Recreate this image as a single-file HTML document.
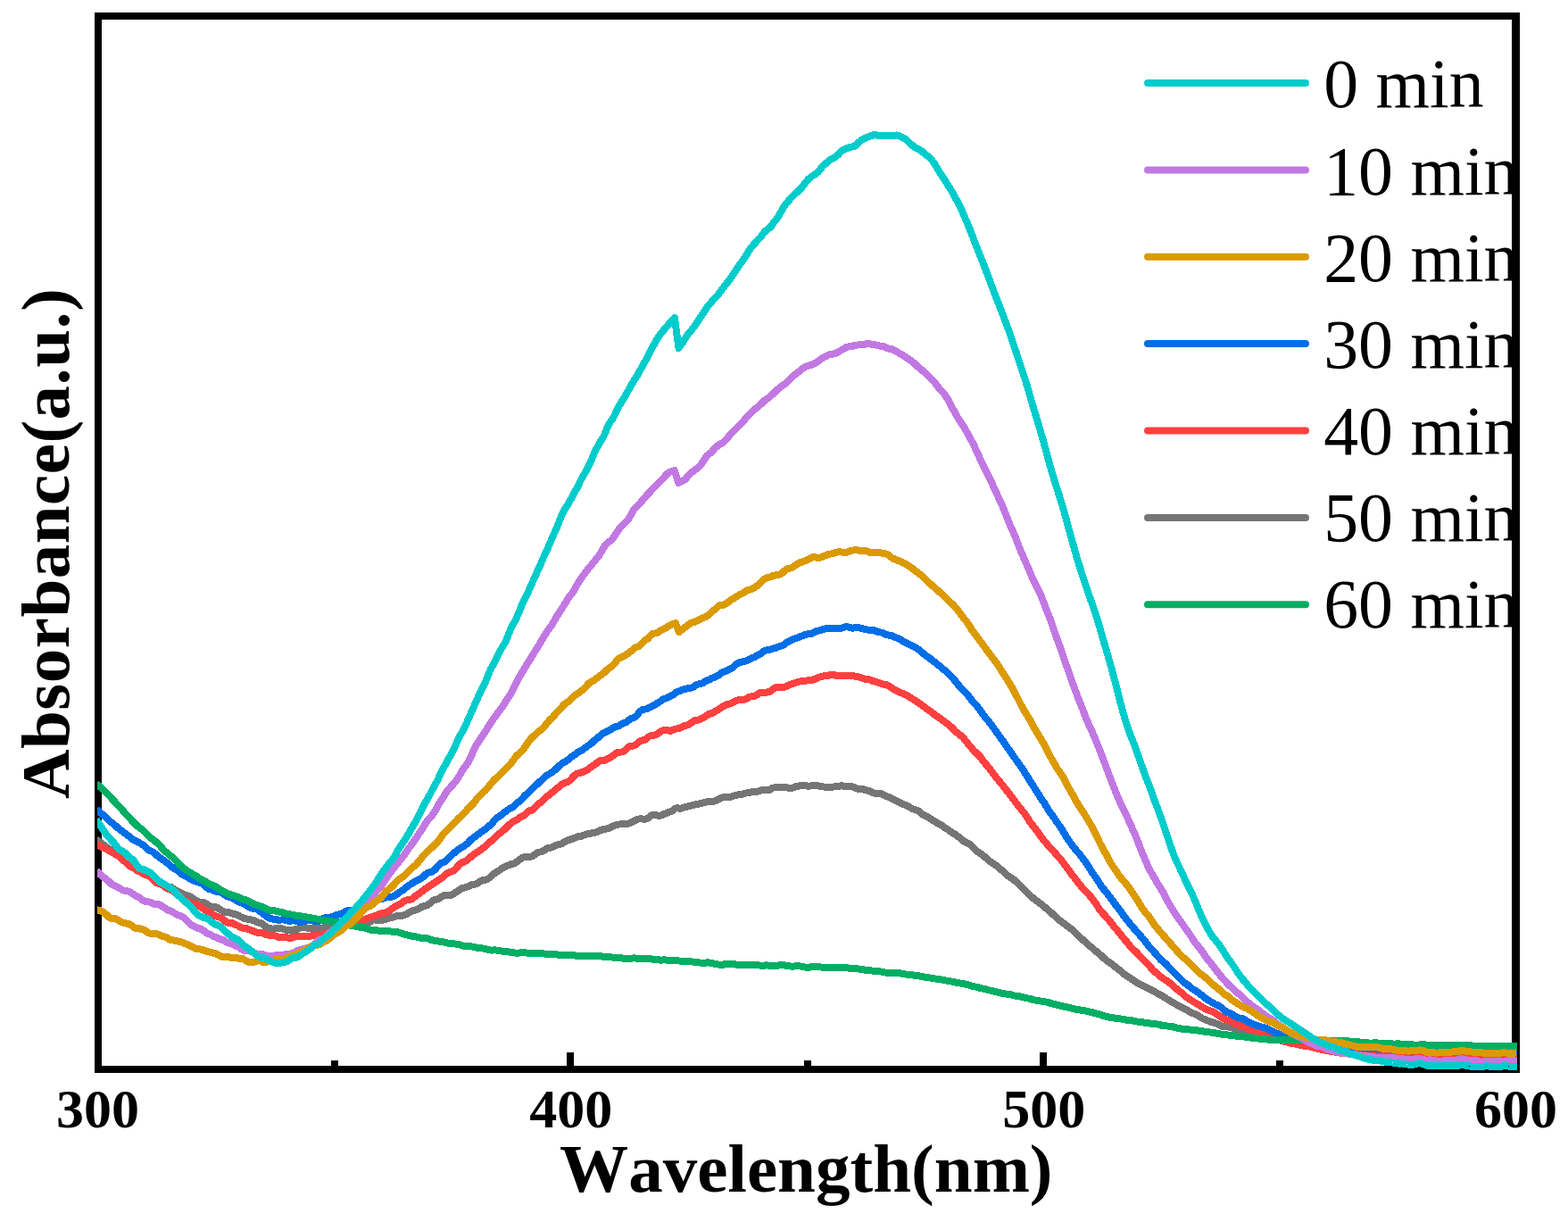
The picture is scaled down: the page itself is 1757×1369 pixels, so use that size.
<!DOCTYPE html>
<html><head><meta charset="utf-8"><title>Absorbance vs Wavelength</title>
<style>
html,body{margin:0;padding:0;background:#fff;}
body{width:1757px;height:1369px;overflow:hidden;}
svg{display:block;}
text{font-family:"Liberation Serif",serif;fill:#000;font-kerning:none;font-variant-ligatures:none;}
.b{font-weight:bold;}
.c{fill:none;stroke-width:8;stroke-linejoin:round;stroke-linecap:butt;}
.l{fill:none;stroke-width:8;stroke-linecap:round;}
</style></head>
<body>
<svg width="1757" height="1369" viewBox="0 0 1757 1369">
<defs><clipPath id="cp"><rect x="109" y="18" width="1591" height="1181"/></clipPath><clipPath id="lp"><rect x="114" y="22" width="1584" height="1173"/></clipPath></defs>
<rect x="0" y="0" width="1757" height="1369" fill="#fff"/>
<g clip-path="url(#lp)">
<line class="l" x1="1286" x2="1463" y1="93.1" y2="93.1" stroke="#00CCCC"/>
<text x="1483.2" y="120.4" font-size="77.8">0 min</text>
<line class="l" x1="1286" x2="1463" y1="190.4" y2="190.4" stroke="#C278E3"/>
<text x="1483.2" y="217.6" font-size="77.8">10 min</text>
<line class="l" x1="1286" x2="1463" y1="287.8" y2="287.8" stroke="#DB9A00"/>
<text x="1483.2" y="314.7" font-size="77.8">20 min</text>
<line class="l" x1="1286" x2="1463" y1="385.1" y2="385.1" stroke="#006EE6"/>
<text x="1483.2" y="411.9" font-size="77.8">30 min</text>
<line class="l" x1="1286" x2="1463" y1="482.5" y2="482.5" stroke="#FF4040"/>
<text x="1483.2" y="509.0" font-size="77.8">40 min</text>
<line class="l" x1="1286" x2="1463" y1="579.9" y2="579.9" stroke="#757575"/>
<text x="1483.2" y="606.1" font-size="77.8">50 min</text>
<line class="l" x1="1286" x2="1463" y1="677.2" y2="677.2" stroke="#00AE64"/>
<text x="1483.2" y="703.3" font-size="77.8">60 min</text>
</g>
<g fill="#000" shape-rendering="crispEdges">
<rect x="106" y="14" width="8" height="1188"/>
<rect x="1694" y="14" width="9" height="1188"/>
<rect x="106" y="14" width="1597" height="8"/>
<rect x="106" y="1194" width="1597" height="8"/>
<rect x="635.0" y="1179" width="8" height="16"/>
<rect x="1164.5" y="1179" width="8" height="16"/>
<rect x="370.5" y="1188" width="8" height="7"/>
<rect x="900.5" y="1188" width="8" height="7"/>
<rect x="1430.0" y="1188" width="8" height="7"/>
</g>
<g clip-path="url(#cp)" shape-rendering="crispEdges">
<path class="c" stroke="#757575" d="M108.0 940.6 L110.0 941.9 L112.0 943.4 L114.0 945.1 L116.0 946.6 L118.0 948.0 L120.0 949.5 L122.0 950.9 L124.0 951.8 L126.0 952.7 L128.0 954.0 L130.0 955.7 L132.0 957.5 L134.0 958.9 L136.0 959.9 L138.0 961.2 L140.0 962.7 L142.0 964.0 L144.0 965.3 L146.0 966.7 L148.0 968.0 L150.0 969.3 L152.0 970.7 L154.0 972.0 L156.0 973.6 L158.0 975.4 L160.0 977.0 L162.0 978.0 L164.0 978.5 L166.0 979.0 L168.0 979.9 L170.0 981.2 L172.0 982.5 L174.0 984.0 L176.0 985.8 L178.0 987.8 L180.0 989.6 L182.0 990.8 L184.0 991.7 L186.0 992.6 L188.0 993.2 L190.0 993.5 L192.0 994.2 L194.0 995.6 L196.0 997.0 L198.0 998.0 L200.0 999.0 L202.0 1000.1 L204.0 1001.2 L206.0 1002.2 L208.0 1003.0 L210.0 1003.5 L212.0 1004.0 L214.0 1005.0 L216.0 1006.5 L218.0 1007.8 L220.0 1009.1 L222.0 1010.0 L224.0 1010.6 L226.0 1010.8 L228.0 1011.0 L230.0 1011.7 L232.0 1013.0 L234.0 1014.5 L236.0 1015.7 L238.0 1016.1 L240.0 1016.2 L242.0 1016.4 L244.0 1017.2 L246.0 1018.4 L248.0 1019.7 L250.0 1020.9 L252.0 1021.8 L254.0 1022.1 L256.0 1022.3 L258.0 1022.6 L260.0 1023.3 L262.0 1023.8 L264.0 1024.3 L266.0 1025.1 L268.0 1026.2 L270.0 1027.3 L272.0 1028.2 L274.0 1028.9 L276.0 1029.5 L278.0 1029.8 L280.0 1030.1 L282.0 1030.6 L284.0 1031.2 L286.0 1032.0 L288.0 1032.9 L290.0 1033.6 L292.0 1034.2 L294.0 1035.2 L296.0 1036.8 L298.0 1038.3 L300.0 1039.3 L302.0 1040.0 L304.0 1040.5 L306.0 1040.6 L308.0 1040.5 L310.0 1040.0 L312.0 1039.7 L314.0 1039.9 L316.0 1040.4 L318.0 1041.1 L320.0 1041.7 L322.0 1042.0 L324.0 1042.3 L326.0 1042.6 L328.0 1042.2 L330.0 1041.5 L332.0 1041.0 L334.0 1040.6 L336.0 1039.7 L338.0 1038.9 L340.0 1039.0 L342.0 1039.4 L344.0 1039.6 L346.0 1039.8 L348.0 1040.1 L350.0 1040.1 L352.0 1039.8 L354.0 1039.8 L356.0 1040.1 L358.0 1040.1 L360.0 1039.8 L362.0 1039.4 L364.0 1039.4 L366.0 1039.5 L368.0 1039.2 L370.0 1038.6 L372.0 1037.9 L374.0 1037.2 L376.0 1036.9 L378.0 1036.9 L380.0 1037.3 L382.0 1037.9 L384.0 1038.0 L386.0 1037.3 L388.0 1036.5 L390.0 1036.1 L392.0 1036.0 L394.0 1036.1 L396.0 1036.2 L398.0 1036.1 L400.0 1035.5 L402.0 1034.7 L404.0 1033.9 L406.0 1033.3 L408.0 1033.2 L410.0 1033.8 L412.0 1034.2 L414.0 1033.3 L416.0 1031.6 L418.0 1030.3 L420.0 1030.3 L422.0 1031.0 L424.0 1031.3 L426.0 1031.1 L428.0 1030.7 L430.0 1030.4 L432.0 1029.9 L434.0 1029.2 L436.0 1028.6 L438.0 1028.2 L440.0 1027.8 L442.0 1027.1 L444.0 1026.3 L446.0 1025.8 L448.0 1025.6 L450.0 1025.7 L452.0 1025.5 L454.0 1024.8 L456.0 1023.8 L458.0 1022.6 L460.0 1021.4 L462.0 1020.4 L464.0 1019.9 L466.0 1019.4 L468.0 1018.5 L470.0 1017.4 L472.0 1016.2 L474.0 1015.4 L476.0 1014.8 L478.0 1014.3 L480.0 1013.4 L482.0 1011.8 L484.0 1009.8 L486.0 1008.4 L488.0 1007.9 L490.0 1007.4 L492.0 1006.4 L494.0 1005.1 L496.0 1003.9 L498.0 1003.2 L500.0 1003.1 L502.0 1003.1 L504.0 1003.0 L506.0 1002.6 L508.0 1001.6 L510.0 1000.2 L512.0 999.0 L514.0 997.6 L516.0 996.1 L518.0 995.1 L520.0 994.6 L522.0 994.1 L524.0 993.4 L526.0 992.4 L528.0 991.5 L530.0 991.0 L532.0 990.7 L534.0 989.9 L536.0 988.8 L538.0 987.6 L540.0 986.5 L542.0 986.0 L544.0 985.6 L546.0 984.9 L548.0 983.7 L550.0 982.1 L552.0 980.3 L554.0 978.4 L556.0 977.0 L558.0 975.9 L560.0 974.7 L562.0 973.3 L564.0 971.9 L566.0 970.8 L568.0 970.1 L570.0 969.4 L572.0 968.5 L574.0 967.9 L576.0 967.3 L578.0 966.3 L580.0 964.7 L582.0 963.1 L584.0 961.7 L586.0 960.7 L588.0 960.1 L590.0 960.1 L592.0 960.3 L594.0 960.0 L596.0 959.3 L598.0 958.3 L600.0 957.0 L602.0 955.6 L604.0 954.7 L606.0 954.3 L608.0 953.7 L610.0 952.5 L612.0 951.0 L614.0 950.2 L616.0 950.0 L618.0 949.5 L620.0 948.5 L622.0 947.3 L624.0 946.5 L626.0 946.1 L628.0 945.7 L630.0 944.9 L632.0 943.6 L634.0 942.3 L636.0 941.5 L638.0 940.9 L640.0 940.2 L642.0 939.6 L644.0 938.8 L646.0 937.8 L648.0 937.2 L650.0 937.0 L652.0 936.6 L654.0 935.8 L656.0 935.0 L658.0 934.4 L660.0 934.0 L662.0 933.6 L664.0 933.2 L666.0 932.8 L668.0 932.3 L670.0 931.5 L672.0 930.6 L674.0 929.8 L676.0 929.2 L678.0 928.8 L680.0 928.4 L682.0 928.0 L684.0 927.0 L686.0 925.9 L688.0 925.0 L690.0 924.5 L692.0 924.0 L694.0 923.5 L696.0 923.3 L698.0 923.3 L700.0 923.2 L702.0 922.9 L704.0 922.6 L706.0 922.0 L708.0 921.1 L710.0 920.0 L712.0 918.9 L714.0 918.0 L716.0 917.5 L718.0 917.4 L720.0 917.5 L722.0 917.7 L724.0 917.4 L726.0 916.5 L728.0 915.1 L730.0 913.6 L732.0 912.7 L734.0 912.7 L736.0 913.3 L738.0 913.8 L740.0 913.7 L742.0 913.0 L744.0 912.1 L746.0 911.3 L748.0 910.5 L750.0 909.7 L752.0 909.0 L754.0 907.8 L756.0 906.2 L758.0 905.3 L760.0 905.4 L762.0 905.7 L764.0 905.4 L766.0 904.7 L768.0 904.1 L770.0 903.6 L772.0 903.1 L774.0 902.5 L776.0 902.1 L778.0 901.7 L780.0 901.1 L782.0 900.7 L784.0 900.5 L786.0 900.0 L788.0 899.3 L790.0 898.8 L792.0 898.4 L794.0 898.1 L796.0 898.2 L798.0 898.2 L800.0 897.7 L802.0 896.9 L804.0 896.0 L806.0 895.0 L808.0 894.1 L810.0 893.4 L812.0 893.0 L814.0 892.8 L816.0 892.9 L818.0 893.0 L820.0 892.5 L822.0 891.8 L824.0 891.1 L826.0 890.6 L828.0 890.3 L830.0 890.1 L832.0 889.6 L834.0 889.0 L836.0 888.5 L838.0 888.1 L840.0 887.8 L842.0 887.4 L844.0 887.1 L846.0 887.2 L848.0 887.0 L850.0 886.3 L852.0 885.5 L854.0 885.1 L856.0 885.2 L858.0 885.4 L860.0 885.5 L862.0 884.9 L864.0 883.8 L866.0 882.7 L868.0 882.3 L870.0 882.3 L872.0 882.2 L874.0 881.9 L876.0 881.8 L878.0 881.8 L880.0 882.0 L882.0 882.4 L884.0 882.9 L886.0 882.9 L888.0 882.6 L890.0 881.9 L892.0 881.2 L894.0 880.8 L896.0 880.4 L898.0 879.8 L900.0 879.6 L902.0 879.9 L904.0 880.4 L906.0 880.7 L908.0 880.5 L910.0 880.1 L912.0 879.8 L914.0 879.8 L916.0 880.1 L918.0 880.6 L920.0 881.1 L922.0 881.4 L924.0 881.6 L926.0 881.7 L928.0 881.6 L930.0 881.5 L932.0 881.5 L934.0 881.5 L936.0 881.4 L938.0 881.1 L940.0 880.8 L942.0 880.4 L944.0 880.4 L946.0 880.7 L948.0 881.2 L950.0 881.5 L952.0 881.3 L954.0 881.2 L956.0 881.7 L958.0 882.6 L960.0 883.4 L962.0 883.7 L964.0 883.7 L966.0 883.8 L968.0 884.5 L970.0 885.3 L972.0 885.6 L974.0 886.0 L976.0 887.0 L978.0 888.0 L980.0 888.6 L982.0 888.7 L984.0 888.8 L986.0 889.0 L988.0 889.4 L990.0 890.3 L992.0 891.4 L994.0 892.4 L996.0 893.0 L998.0 893.8 L1000.0 894.8 L1002.0 895.8 L1004.0 896.8 L1006.0 897.8 L1008.0 898.9 L1010.0 899.9 L1012.0 900.8 L1014.0 901.7 L1016.0 902.6 L1018.0 903.5 L1020.0 904.7 L1022.0 905.9 L1024.0 906.8 L1026.0 907.3 L1028.0 907.9 L1030.0 909.1 L1032.0 910.9 L1034.0 912.6 L1036.0 913.7 L1038.0 914.6 L1040.0 915.6 L1042.0 916.9 L1044.0 918.3 L1046.0 919.5 L1048.0 920.6 L1050.0 921.8 L1052.0 922.9 L1054.0 923.9 L1056.0 925.3 L1058.0 926.8 L1060.0 928.2 L1062.0 929.3 L1064.0 930.7 L1066.0 932.1 L1068.0 933.4 L1070.0 934.6 L1072.0 936.0 L1074.0 937.5 L1076.0 939.1 L1078.0 940.8 L1080.0 942.4 L1082.0 943.6 L1084.0 944.5 L1086.0 945.6 L1088.0 947.0 L1090.0 948.8 L1092.0 950.9 L1094.0 952.9 L1096.0 954.4 L1098.0 955.8 L1100.0 957.3 L1102.0 958.8 L1104.0 960.4 L1106.0 962.2 L1108.0 964.0 L1110.0 965.6 L1112.0 966.9 L1114.0 968.1 L1116.0 969.5 L1118.0 971.1 L1120.0 972.8 L1122.0 974.5 L1124.0 976.1 L1126.0 977.9 L1128.0 979.8 L1130.0 981.5 L1132.0 982.8 L1134.0 984.1 L1136.0 985.6 L1138.0 987.3 L1140.0 989.2 L1142.0 991.2 L1144.0 993.2 L1146.0 995.2 L1148.0 997.0 L1150.0 998.9 L1152.0 1000.9 L1154.0 1002.9 L1156.0 1004.7 L1158.0 1006.4 L1160.0 1008.2 L1162.0 1009.6 L1164.0 1011.0 L1166.0 1012.4 L1168.0 1014.0 L1170.0 1015.7 L1172.0 1017.4 L1174.0 1019.0 L1176.0 1020.7 L1178.0 1022.6 L1180.0 1024.4 L1182.0 1026.1 L1184.0 1027.9 L1186.0 1029.8 L1188.0 1031.6 L1190.0 1033.1 L1192.0 1034.5 L1194.0 1035.9 L1196.0 1037.5 L1198.0 1039.1 L1200.0 1040.6 L1202.0 1042.1 L1204.0 1043.9 L1206.0 1046.2 L1208.0 1048.3 L1210.0 1050.1 L1212.0 1051.8 L1214.0 1053.4 L1216.0 1055.2 L1218.0 1057.1 L1220.0 1058.9 L1222.0 1060.5 L1224.0 1062.1 L1226.0 1063.9 L1228.0 1065.6 L1230.0 1067.2 L1232.0 1068.9 L1234.0 1070.6 L1236.0 1072.4 L1238.0 1074.3 L1240.0 1076.1 L1242.0 1077.6 L1244.0 1078.8 L1246.0 1080.1 L1248.0 1081.7 L1250.0 1083.4 L1252.0 1085.0 L1254.0 1086.5 L1256.0 1088.1 L1258.0 1089.9 L1260.0 1091.5 L1262.0 1092.9 L1264.0 1094.3 L1266.0 1095.5 L1268.0 1096.8 L1270.0 1098.1 L1272.0 1099.5 L1274.0 1101.0 L1276.0 1102.2 L1278.0 1103.1 L1280.0 1104.2 L1282.0 1105.2 L1284.0 1106.1 L1286.0 1107.0 L1288.0 1107.9 L1290.0 1108.8 L1292.0 1109.9 L1294.0 1111.1 L1296.0 1112.3 L1298.0 1113.4 L1300.0 1114.5 L1302.0 1115.6 L1304.0 1116.9 L1306.0 1118.1 L1308.0 1119.3 L1310.0 1120.5 L1312.0 1121.8 L1314.0 1123.1 L1316.0 1124.2 L1318.0 1125.3 L1320.0 1126.3 L1322.0 1127.3 L1324.0 1128.4 L1326.0 1129.5 L1328.0 1130.5 L1330.0 1131.6 L1332.0 1132.9 L1334.0 1134.1 L1336.0 1134.9 L1338.0 1135.6 L1340.0 1136.4 L1342.0 1137.5 L1344.0 1138.8 L1346.0 1140.1 L1348.0 1141.3 L1350.0 1142.2 L1352.0 1142.9 L1354.0 1143.6 L1356.0 1144.5 L1358.0 1145.1 L1360.0 1145.6 L1362.0 1146.3 L1364.0 1147.2 L1366.0 1148.2 L1368.0 1149.2 L1370.0 1149.9 L1372.0 1150.2 L1374.0 1150.3 L1376.0 1150.5 L1378.0 1151.0 L1380.0 1151.5 L1382.0 1151.9 L1384.0 1152.3 L1386.0 1153.0 L1388.0 1153.9 L1390.0 1154.7 L1392.0 1155.4 L1394.0 1156.0 L1396.0 1156.7 L1398.0 1157.4 L1400.0 1157.9 L1402.0 1158.3 L1404.0 1158.7 L1406.0 1159.3 L1408.0 1160.1 L1410.0 1160.8 L1412.0 1161.2 L1414.0 1161.4 L1416.0 1161.6 L1418.0 1161.9 L1420.0 1162.5 L1422.0 1162.9 L1424.0 1163.3 L1426.0 1163.7 L1428.0 1164.2 L1430.0 1164.5 L1432.0 1164.9 L1434.0 1165.4 L1436.0 1165.9 L1438.0 1166.5 L1440.0 1166.9 L1442.0 1167.1 L1444.0 1167.1 L1446.0 1167.2 L1448.0 1167.4 L1450.0 1167.9 L1452.0 1168.4 L1454.0 1168.8 L1456.0 1168.7 L1458.0 1168.6 L1460.0 1168.6 L1462.0 1169.0 L1464.0 1169.4 L1466.0 1169.7 L1468.0 1169.9 L1470.0 1170.2 L1472.0 1170.6 L1474.0 1170.9 L1476.0 1171.0 L1478.0 1171.2 L1480.0 1171.4 L1482.0 1171.6 L1484.0 1171.8 L1486.0 1172.1 L1488.0 1172.2 L1490.0 1172.3 L1492.0 1172.5 L1494.0 1172.7 L1496.0 1172.8 L1498.0 1172.8 L1500.0 1172.9 L1502.0 1173.0 L1504.0 1173.2 L1506.0 1173.2 L1508.0 1173.2 L1510.0 1173.6 L1512.0 1173.9 L1514.0 1173.9 L1516.0 1173.7 L1518.0 1173.6 L1520.0 1173.9 L1522.0 1174.2 L1524.0 1174.3 L1526.0 1174.1 L1528.0 1174.0 L1530.0 1173.9 L1532.0 1173.9 L1534.0 1173.9 L1536.0 1174.0 L1538.0 1174.3 L1540.0 1174.6 L1542.0 1174.8 L1544.0 1174.8 L1546.0 1174.9 L1548.0 1175.0 L1550.0 1175.1 L1552.0 1175.2 L1554.0 1175.1 L1556.0 1174.9 L1558.0 1174.9 L1560.0 1175.0 L1562.0 1175.1 L1564.0 1175.1 L1566.0 1175.2 L1568.0 1175.2 L1570.0 1175.1 L1572.0 1175.1 L1574.0 1175.0 L1576.0 1175.0 L1578.0 1175.0 L1580.0 1175.0 L1582.0 1174.9 L1584.0 1174.9 L1586.0 1174.9 L1588.0 1174.6 L1590.0 1174.2 L1592.0 1174.3 L1594.0 1174.8 L1596.0 1175.1 L1598.0 1175.2 L1600.0 1175.3 L1602.0 1175.5 L1604.0 1175.8 L1606.0 1176.1 L1608.0 1176.4 L1610.0 1176.6 L1612.0 1176.8 L1614.0 1177.0 L1616.0 1176.9 L1618.0 1176.5 L1620.0 1176.2 L1622.0 1176.0 L1624.0 1175.8 L1626.0 1175.6 L1628.0 1175.6 L1630.0 1175.8 L1632.0 1175.7 L1634.0 1175.5 L1636.0 1175.3 L1638.0 1175.1 L1640.0 1175.1 L1642.0 1175.2 L1644.0 1175.5 L1646.0 1175.6 L1648.0 1175.3 L1650.0 1175.2 L1652.0 1175.6 L1654.0 1176.0 L1656.0 1176.4 L1658.0 1176.6 L1660.0 1176.7 L1662.0 1176.9 L1664.0 1177.1 L1666.0 1177.2 L1668.0 1176.9 L1670.0 1176.6 L1672.0 1176.4 L1674.0 1176.3 L1676.0 1176.2 L1678.0 1175.9 L1680.0 1175.7 L1682.0 1175.5 L1684.0 1175.4 L1686.0 1175.5 L1688.0 1175.8 L1690.0 1176.2 L1692.0 1176.4 L1694.0 1176.3 L1696.0 1176.0 L1698.0 1175.8 L1700.0 1175.7"/>
<path class="c" stroke="#FF4040" d="M108.0 944.9 L110.0 946.5 L112.0 948.0 L114.0 948.9 L116.0 949.6 L118.0 950.4 L120.0 951.6 L122.0 952.9 L124.0 954.0 L126.0 955.0 L128.0 956.2 L130.0 957.4 L132.0 958.5 L134.0 960.2 L136.0 962.3 L138.0 964.0 L140.0 965.2 L142.0 966.7 L144.0 968.7 L146.0 970.4 L148.0 971.5 L150.0 972.5 L152.0 974.0 L154.0 975.4 L156.0 976.3 L158.0 977.2 L160.0 978.4 L162.0 979.6 L164.0 980.4 L166.0 981.0 L168.0 981.7 L170.0 983.4 L172.0 985.8 L174.0 988.0 L176.0 989.4 L178.0 990.1 L180.0 990.7 L182.0 991.7 L184.0 993.0 L186.0 994.5 L188.0 995.5 L190.0 996.2 L192.0 997.0 L194.0 998.3 L196.0 999.6 L198.0 1000.9 L200.0 1002.3 L202.0 1004.0 L204.0 1005.8 L206.0 1007.4 L208.0 1008.9 L210.0 1010.1 L212.0 1010.7 L214.0 1011.3 L216.0 1012.0 L218.0 1012.6 L220.0 1013.2 L222.0 1014.2 L224.0 1015.5 L226.0 1016.9 L228.0 1018.3 L230.0 1019.4 L232.0 1020.3 L234.0 1021.4 L236.0 1022.6 L238.0 1024.1 L240.0 1025.4 L242.0 1026.4 L244.0 1026.9 L246.0 1027.6 L248.0 1028.5 L250.0 1029.8 L252.0 1031.5 L254.0 1033.3 L256.0 1034.1 L258.0 1034.1 L260.0 1034.2 L262.0 1035.0 L264.0 1035.9 L266.0 1036.7 L268.0 1037.8 L270.0 1039.1 L272.0 1039.7 L274.0 1039.8 L276.0 1040.1 L278.0 1040.9 L280.0 1041.8 L282.0 1042.4 L284.0 1043.2 L286.0 1044.0 L288.0 1044.6 L290.0 1044.8 L292.0 1044.8 L294.0 1045.2 L296.0 1046.1 L298.0 1047.0 L300.0 1047.5 L302.0 1047.7 L304.0 1048.0 L306.0 1048.1 L308.0 1048.4 L310.0 1049.1 L312.0 1050.1 L314.0 1050.5 L316.0 1050.1 L318.0 1049.8 L320.0 1049.8 L322.0 1050.3 L324.0 1050.8 L326.0 1050.8 L328.0 1050.3 L330.0 1049.6 L332.0 1049.2 L334.0 1049.2 L336.0 1049.1 L338.0 1049.0 L340.0 1048.8 L342.0 1048.5 L344.0 1048.5 L346.0 1048.7 L348.0 1048.6 L350.0 1048.2 L352.0 1047.7 L354.0 1047.4 L356.0 1047.4 L358.0 1047.4 L360.0 1047.3 L362.0 1046.9 L364.0 1046.2 L366.0 1045.3 L368.0 1044.6 L370.0 1044.3 L372.0 1043.9 L374.0 1043.3 L376.0 1042.4 L378.0 1041.1 L380.0 1039.6 L382.0 1038.3 L384.0 1037.5 L386.0 1036.8 L388.0 1035.6 L390.0 1034.7 L392.0 1034.6 L394.0 1034.7 L396.0 1034.6 L398.0 1034.1 L400.0 1033.8 L402.0 1033.4 L404.0 1032.8 L406.0 1031.8 L408.0 1030.5 L410.0 1029.4 L412.0 1028.8 L414.0 1028.1 L416.0 1027.5 L418.0 1026.8 L420.0 1026.1 L422.0 1025.4 L424.0 1024.6 L426.0 1023.8 L428.0 1023.2 L430.0 1022.9 L432.0 1022.5 L434.0 1021.7 L436.0 1020.4 L438.0 1019.0 L440.0 1017.6 L442.0 1016.1 L444.0 1014.7 L446.0 1013.9 L448.0 1013.2 L450.0 1011.7 L452.0 1009.9 L454.0 1008.9 L456.0 1008.4 L458.0 1008.1 L460.0 1007.8 L462.0 1006.8 L464.0 1005.2 L466.0 1003.6 L468.0 1002.2 L470.0 1000.9 L472.0 999.3 L474.0 997.7 L476.0 996.3 L478.0 995.0 L480.0 993.5 L482.0 992.0 L484.0 990.8 L486.0 989.7 L488.0 988.3 L490.0 986.8 L492.0 985.4 L494.0 984.2 L496.0 982.7 L498.0 980.9 L500.0 979.2 L502.0 977.9 L504.0 977.0 L506.0 976.4 L508.0 975.5 L510.0 974.0 L512.0 971.7 L514.0 969.3 L516.0 967.4 L518.0 966.2 L520.0 965.6 L522.0 964.7 L524.0 963.1 L526.0 961.3 L528.0 959.5 L530.0 957.9 L532.0 956.4 L534.0 955.1 L536.0 953.8 L538.0 952.5 L540.0 951.0 L542.0 949.6 L544.0 947.8 L546.0 945.9 L548.0 944.1 L550.0 942.6 L552.0 941.0 L554.0 939.1 L556.0 937.1 L558.0 935.2 L560.0 933.5 L562.0 931.8 L564.0 930.3 L566.0 928.5 L568.0 926.4 L570.0 924.4 L572.0 922.7 L574.0 921.1 L576.0 919.8 L578.0 918.9 L580.0 917.8 L582.0 916.3 L584.0 915.0 L586.0 914.0 L588.0 912.8 L590.0 911.0 L592.0 909.2 L594.0 908.2 L596.0 907.5 L598.0 906.2 L600.0 904.0 L602.0 901.8 L604.0 900.3 L606.0 898.9 L608.0 897.1 L610.0 895.1 L612.0 893.2 L614.0 891.5 L616.0 889.9 L618.0 888.3 L620.0 886.7 L622.0 884.9 L624.0 883.3 L626.0 881.8 L628.0 880.1 L630.0 878.4 L632.0 877.3 L634.0 876.7 L636.0 876.0 L638.0 874.7 L640.0 872.8 L642.0 870.5 L644.0 868.5 L646.0 867.1 L648.0 866.3 L650.0 865.8 L652.0 865.2 L654.0 864.6 L656.0 863.7 L658.0 862.5 L660.0 861.0 L662.0 859.5 L664.0 858.2 L666.0 857.1 L668.0 855.6 L670.0 853.7 L672.0 852.4 L674.0 852.3 L676.0 852.4 L678.0 851.5 L680.0 850.3 L682.0 849.4 L684.0 848.7 L686.0 847.4 L688.0 845.7 L690.0 844.2 L692.0 843.1 L694.0 842.6 L696.0 842.5 L698.0 842.1 L700.0 840.8 L702.0 838.9 L704.0 837.1 L706.0 836.2 L708.0 835.9 L710.0 835.5 L712.0 834.5 L714.0 832.8 L716.0 831.0 L718.0 829.9 L720.0 829.5 L722.0 829.0 L724.0 827.8 L726.0 826.0 L728.0 824.7 L730.0 824.2 L732.0 824.0 L734.0 823.4 L736.0 822.4 L738.0 821.1 L740.0 819.8 L742.0 818.6 L744.0 817.9 L746.0 817.7 L748.0 818.1 L750.0 818.7 L752.0 818.7 L754.0 817.7 L756.0 816.8 L758.0 816.5 L760.0 816.2 L762.0 815.4 L764.0 814.4 L766.0 813.5 L768.0 812.8 L770.0 812.3 L772.0 811.5 L774.0 810.2 L776.0 808.7 L778.0 807.4 L780.0 806.9 L782.0 806.7 L784.0 806.1 L786.0 805.0 L788.0 803.8 L790.0 802.8 L792.0 801.5 L794.0 800.2 L796.0 799.5 L798.0 798.9 L800.0 797.8 L802.0 796.7 L804.0 795.6 L806.0 794.3 L808.0 792.8 L810.0 791.4 L812.0 790.4 L814.0 789.5 L816.0 788.8 L818.0 788.3 L820.0 787.7 L822.0 786.6 L824.0 785.5 L826.0 784.7 L828.0 784.1 L830.0 783.7 L832.0 783.7 L834.0 783.7 L836.0 783.0 L838.0 781.8 L840.0 780.7 L842.0 780.3 L844.0 780.1 L846.0 779.5 L848.0 778.4 L850.0 777.0 L852.0 776.0 L854.0 775.7 L856.0 775.8 L858.0 775.8 L860.0 775.5 L862.0 774.9 L864.0 773.8 L866.0 772.2 L868.0 770.9 L870.0 770.2 L872.0 770.0 L874.0 769.9 L876.0 770.0 L878.0 770.0 L880.0 769.5 L882.0 768.5 L884.0 767.5 L886.0 766.6 L888.0 765.9 L890.0 765.3 L892.0 764.8 L894.0 764.0 L896.0 763.5 L898.0 763.4 L900.0 763.4 L902.0 763.0 L904.0 762.5 L906.0 762.3 L908.0 762.3 L910.0 761.9 L912.0 761.2 L914.0 760.4 L916.0 759.5 L918.0 758.8 L920.0 758.1 L922.0 757.6 L924.0 757.3 L926.0 757.2 L928.0 756.9 L930.0 756.2 L932.0 755.6 L934.0 755.8 L936.0 756.6 L938.0 757.1 L940.0 757.3 L942.0 757.2 L944.0 757.2 L946.0 757.2 L948.0 757.3 L950.0 757.2 L952.0 756.9 L954.0 756.7 L956.0 757.0 L958.0 757.6 L960.0 758.0 L962.0 758.5 L964.0 758.9 L966.0 759.6 L968.0 760.4 L970.0 760.8 L972.0 760.8 L974.0 761.3 L976.0 762.2 L978.0 762.9 L980.0 763.3 L982.0 763.9 L984.0 764.7 L986.0 765.4 L988.0 766.0 L990.0 766.6 L992.0 767.0 L994.0 767.4 L996.0 768.3 L998.0 769.8 L1000.0 771.1 L1002.0 772.4 L1004.0 773.4 L1006.0 774.4 L1008.0 775.4 L1010.0 776.3 L1012.0 777.2 L1014.0 777.9 L1016.0 778.9 L1018.0 780.2 L1020.0 781.6 L1022.0 782.7 L1024.0 783.8 L1026.0 785.0 L1028.0 786.4 L1030.0 787.7 L1032.0 789.2 L1034.0 790.7 L1036.0 792.3 L1038.0 793.7 L1040.0 795.2 L1042.0 796.6 L1044.0 798.1 L1046.0 799.6 L1048.0 801.2 L1050.0 802.6 L1052.0 803.9 L1054.0 805.2 L1056.0 806.7 L1058.0 808.2 L1060.0 809.8 L1062.0 811.3 L1064.0 812.9 L1066.0 814.6 L1068.0 816.6 L1070.0 818.7 L1072.0 820.6 L1074.0 822.1 L1076.0 823.6 L1078.0 825.3 L1080.0 827.3 L1082.0 829.9 L1084.0 832.4 L1086.0 834.8 L1088.0 837.2 L1090.0 839.7 L1092.0 841.7 L1094.0 843.5 L1096.0 845.3 L1098.0 847.5 L1100.0 850.1 L1102.0 852.9 L1104.0 855.4 L1106.0 857.7 L1108.0 860.1 L1110.0 862.6 L1112.0 865.2 L1114.0 867.9 L1116.0 870.7 L1118.0 873.2 L1120.0 875.5 L1122.0 877.8 L1124.0 880.4 L1126.0 883.0 L1128.0 885.5 L1130.0 888.0 L1132.0 890.7 L1134.0 893.5 L1136.0 896.0 L1138.0 898.6 L1140.0 901.2 L1142.0 903.8 L1144.0 906.3 L1146.0 908.8 L1148.0 911.3 L1150.0 914.1 L1152.0 917.3 L1154.0 920.6 L1156.0 923.4 L1158.0 925.7 L1160.0 928.1 L1162.0 930.9 L1164.0 933.8 L1166.0 936.6 L1168.0 939.3 L1170.0 941.8 L1172.0 944.2 L1174.0 946.6 L1176.0 949.0 L1178.0 951.1 L1180.0 953.1 L1182.0 955.4 L1184.0 957.6 L1186.0 959.8 L1188.0 962.2 L1190.0 964.6 L1192.0 967.3 L1194.0 970.1 L1196.0 972.7 L1198.0 975.4 L1200.0 978.2 L1202.0 980.9 L1204.0 983.4 L1206.0 986.0 L1208.0 988.6 L1210.0 991.2 L1212.0 993.6 L1214.0 995.8 L1216.0 997.9 L1218.0 1000.0 L1220.0 1002.1 L1222.0 1004.5 L1224.0 1007.0 L1226.0 1009.6 L1228.0 1012.4 L1230.0 1015.5 L1232.0 1018.6 L1234.0 1021.2 L1236.0 1023.5 L1238.0 1025.6 L1240.0 1027.7 L1242.0 1030.0 L1244.0 1032.5 L1246.0 1035.0 L1248.0 1037.6 L1250.0 1040.0 L1252.0 1042.3 L1254.0 1044.8 L1256.0 1047.4 L1258.0 1050.0 L1260.0 1052.4 L1262.0 1054.5 L1264.0 1057.0 L1266.0 1059.7 L1268.0 1062.1 L1270.0 1063.9 L1272.0 1065.5 L1274.0 1067.5 L1276.0 1069.8 L1278.0 1072.0 L1280.0 1074.2 L1282.0 1076.1 L1284.0 1077.9 L1286.0 1079.8 L1288.0 1082.0 L1290.0 1084.5 L1292.0 1086.8 L1294.0 1088.6 L1296.0 1090.2 L1298.0 1092.0 L1300.0 1093.7 L1302.0 1095.3 L1304.0 1096.7 L1306.0 1098.0 L1308.0 1099.2 L1310.0 1100.6 L1312.0 1102.2 L1314.0 1103.9 L1316.0 1105.7 L1318.0 1107.6 L1320.0 1109.3 L1322.0 1110.7 L1324.0 1112.1 L1326.0 1113.8 L1328.0 1115.8 L1330.0 1117.6 L1332.0 1119.0 L1334.0 1120.1 L1336.0 1121.3 L1338.0 1122.7 L1340.0 1124.0 L1342.0 1125.1 L1344.0 1126.1 L1346.0 1127.4 L1348.0 1128.7 L1350.0 1130.0 L1352.0 1130.9 L1354.0 1131.6 L1356.0 1132.3 L1358.0 1133.0 L1360.0 1133.9 L1362.0 1135.1 L1364.0 1136.4 L1366.0 1137.8 L1368.0 1139.2 L1370.0 1140.5 L1372.0 1141.6 L1374.0 1142.4 L1376.0 1143.0 L1378.0 1143.7 L1380.0 1144.7 L1382.0 1145.8 L1384.0 1146.8 L1386.0 1147.7 L1388.0 1148.5 L1390.0 1149.1 L1392.0 1149.6 L1394.0 1150.4 L1396.0 1151.2 L1398.0 1152.0 L1400.0 1152.8 L1402.0 1153.5 L1404.0 1154.1 L1406.0 1154.6 L1408.0 1155.2 L1410.0 1155.9 L1412.0 1156.3 L1414.0 1156.6 L1416.0 1157.1 L1418.0 1157.5 L1420.0 1157.9 L1422.0 1158.6 L1424.0 1159.9 L1426.0 1161.2 L1428.0 1162.3 L1430.0 1163.1 L1432.0 1163.8 L1434.0 1164.5 L1436.0 1165.1 L1438.0 1165.8 L1440.0 1166.6 L1442.0 1167.4 L1444.0 1168.1 L1446.0 1168.6 L1448.0 1169.0 L1450.0 1169.3 L1452.0 1169.7 L1454.0 1170.2 L1456.0 1170.6 L1458.0 1170.9 L1460.0 1171.3 L1462.0 1171.8 L1464.0 1172.1 L1466.0 1172.3 L1468.0 1172.6 L1470.0 1173.1 L1472.0 1173.7 L1474.0 1174.1 L1476.0 1174.7 L1478.0 1175.2 L1480.0 1175.7 L1482.0 1176.1 L1484.0 1176.5 L1486.0 1176.9 L1488.0 1177.2 L1490.0 1177.6 L1492.0 1178.0 L1494.0 1178.3 L1496.0 1178.6 L1498.0 1179.0 L1500.0 1179.3 L1502.0 1179.6 L1504.0 1179.7 L1506.0 1179.9 L1508.0 1180.0 L1510.0 1180.1 L1512.0 1180.2 L1514.0 1180.4 L1516.0 1180.5 L1518.0 1180.5 L1520.0 1180.5 L1522.0 1180.6 L1524.0 1180.8 L1526.0 1181.0 L1528.0 1181.0 L1530.0 1181.0 L1532.0 1180.9 L1534.0 1180.8 L1536.0 1180.9 L1538.0 1181.2 L1540.0 1181.3 L1542.0 1181.1 L1544.0 1180.7 L1546.0 1180.8 L1548.0 1181.1 L1550.0 1181.4 L1552.0 1181.6 L1554.0 1181.8 L1556.0 1182.0 L1558.0 1182.1 L1560.0 1182.3 L1562.0 1182.6 L1564.0 1182.9 L1566.0 1183.0 L1568.0 1182.6 L1570.0 1182.4 L1572.0 1182.7 L1574.0 1183.2 L1576.0 1183.5 L1578.0 1183.5 L1580.0 1183.3 L1582.0 1183.3 L1584.0 1183.4 L1586.0 1183.2 L1588.0 1182.7 L1590.0 1182.2 L1592.0 1182.3 L1594.0 1182.8 L1596.0 1183.2 L1598.0 1183.4 L1600.0 1183.3 L1602.0 1183.2 L1604.0 1183.3 L1606.0 1183.7 L1608.0 1184.3 L1610.0 1184.4 L1612.0 1184.2 L1614.0 1184.1 L1616.0 1184.1 L1618.0 1184.0 L1620.0 1183.9 L1622.0 1183.8 L1624.0 1183.9 L1626.0 1184.1 L1628.0 1184.3 L1630.0 1184.3 L1632.0 1184.2 L1634.0 1183.8 L1636.0 1183.3 L1638.0 1183.2 L1640.0 1183.5 L1642.0 1183.8 L1644.0 1184.0 L1646.0 1184.2 L1648.0 1184.2 L1650.0 1184.1 L1652.0 1184.1 L1654.0 1184.3 L1656.0 1184.6 L1658.0 1184.7 L1660.0 1184.9 L1662.0 1185.0 L1664.0 1184.8 L1666.0 1184.3 L1668.0 1183.9 L1670.0 1183.9 L1672.0 1184.0 L1674.0 1184.1 L1676.0 1184.1 L1678.0 1184.3 L1680.0 1184.4 L1682.0 1184.2 L1684.0 1184.1 L1686.0 1183.9 L1688.0 1183.7 L1690.0 1183.7 L1692.0 1183.7 L1694.0 1183.9 L1696.0 1184.0 L1698.0 1184.0 L1700.0 1184.0"/>
<path class="c" stroke="#006EE6" d="M108.0 906.7 L110.0 908.5 L112.0 910.4 L114.0 911.8 L116.0 913.2 L118.0 914.8 L120.0 916.9 L122.0 919.0 L124.0 920.7 L126.0 922.2 L128.0 923.8 L130.0 925.6 L132.0 927.4 L134.0 929.0 L136.0 930.5 L138.0 931.9 L140.0 933.5 L142.0 934.9 L144.0 936.5 L146.0 938.2 L148.0 939.9 L150.0 941.2 L152.0 942.1 L154.0 943.0 L156.0 944.1 L158.0 945.3 L160.0 946.5 L162.0 948.2 L164.0 950.1 L166.0 951.8 L168.0 952.9 L170.0 953.7 L172.0 954.9 L174.0 956.5 L176.0 958.4 L178.0 960.0 L180.0 961.4 L182.0 962.7 L184.0 964.3 L186.0 965.9 L188.0 967.3 L190.0 969.1 L192.0 970.9 L194.0 972.3 L196.0 973.3 L198.0 974.5 L200.0 975.9 L202.0 977.7 L204.0 979.6 L206.0 980.7 L208.0 981.5 L210.0 982.7 L212.0 984.0 L214.0 985.0 L216.0 985.9 L218.0 986.9 L220.0 987.7 L222.0 988.3 L224.0 988.8 L226.0 989.6 L228.0 991.0 L230.0 992.8 L232.0 994.6 L234.0 995.9 L236.0 996.5 L238.0 997.0 L240.0 997.8 L242.0 998.7 L244.0 999.3 L246.0 999.4 L248.0 999.9 L250.0 1001.1 L252.0 1002.7 L254.0 1003.9 L256.0 1004.7 L258.0 1005.3 L260.0 1006.1 L262.0 1007.0 L264.0 1008.2 L266.0 1009.6 L268.0 1010.8 L270.0 1011.4 L272.0 1011.9 L274.0 1012.9 L276.0 1014.2 L278.0 1015.4 L280.0 1016.4 L282.0 1017.3 L284.0 1017.9 L286.0 1018.1 L288.0 1018.6 L290.0 1019.8 L292.0 1021.5 L294.0 1023.2 L296.0 1024.6 L298.0 1026.1 L300.0 1027.6 L302.0 1028.6 L304.0 1029.3 L306.0 1029.6 L308.0 1029.7 L310.0 1030.2 L312.0 1030.8 L314.0 1030.7 L316.0 1030.3 L318.0 1030.3 L320.0 1030.8 L322.0 1031.5 L324.0 1031.8 L326.0 1031.6 L328.0 1031.2 L330.0 1031.2 L332.0 1031.9 L334.0 1032.7 L336.0 1032.9 L338.0 1032.6 L340.0 1032.3 L342.0 1031.8 L344.0 1031.4 L346.0 1031.1 L348.0 1031.2 L350.0 1031.5 L352.0 1031.9 L354.0 1032.4 L356.0 1032.5 L358.0 1031.8 L360.0 1030.5 L362.0 1029.2 L364.0 1028.4 L366.0 1028.1 L368.0 1027.9 L370.0 1027.7 L372.0 1027.1 L374.0 1026.4 L376.0 1025.5 L378.0 1024.8 L380.0 1024.4 L382.0 1024.1 L384.0 1023.2 L386.0 1021.8 L388.0 1020.6 L390.0 1020.1 L392.0 1020.1 L394.0 1020.1 L396.0 1019.7 L398.0 1018.9 L400.0 1018.0 L402.0 1016.8 L404.0 1015.4 L406.0 1013.8 L408.0 1012.1 L410.0 1011.0 L412.0 1010.5 L414.0 1010.2 L416.0 1009.4 L418.0 1008.6 L420.0 1008.1 L422.0 1007.7 L424.0 1007.5 L426.0 1007.4 L428.0 1007.1 L430.0 1006.4 L432.0 1005.7 L434.0 1005.3 L436.0 1005.2 L438.0 1004.9 L440.0 1004.5 L442.0 1003.5 L444.0 1002.2 L446.0 1000.7 L448.0 999.3 L450.0 998.2 L452.0 996.9 L454.0 995.2 L456.0 993.4 L458.0 991.9 L460.0 990.7 L462.0 989.5 L464.0 988.3 L466.0 987.0 L468.0 986.0 L470.0 985.2 L472.0 984.1 L474.0 982.4 L476.0 980.4 L478.0 978.7 L480.0 977.6 L482.0 977.1 L484.0 976.5 L486.0 975.4 L488.0 973.6 L490.0 971.2 L492.0 968.8 L494.0 967.2 L496.0 966.3 L498.0 965.5 L500.0 964.0 L502.0 962.0 L504.0 960.1 L506.0 958.3 L508.0 956.3 L510.0 954.5 L512.0 953.0 L514.0 951.6 L516.0 950.3 L518.0 949.0 L520.0 947.8 L522.0 946.4 L524.0 944.7 L526.0 942.6 L528.0 940.6 L530.0 939.0 L532.0 937.4 L534.0 936.0 L536.0 934.6 L538.0 933.1 L540.0 931.5 L542.0 930.2 L544.0 929.0 L546.0 927.3 L548.0 925.4 L550.0 923.7 L552.0 921.7 L554.0 919.2 L556.0 917.1 L558.0 915.6 L560.0 914.2 L562.0 912.7 L564.0 911.1 L566.0 909.4 L568.0 907.9 L570.0 906.7 L572.0 905.7 L574.0 904.6 L576.0 902.8 L578.0 900.9 L580.0 899.3 L582.0 897.9 L584.0 896.0 L586.0 893.8 L588.0 891.6 L590.0 889.7 L592.0 887.7 L594.0 885.7 L596.0 883.8 L598.0 882.1 L600.0 880.3 L602.0 878.4 L604.0 876.5 L606.0 874.7 L608.0 872.7 L610.0 870.8 L612.0 869.2 L614.0 867.9 L616.0 866.7 L618.0 865.5 L620.0 864.1 L622.0 862.4 L624.0 860.4 L626.0 858.5 L628.0 856.7 L630.0 855.1 L632.0 853.8 L634.0 852.8 L636.0 851.7 L638.0 850.2 L640.0 848.3 L642.0 846.9 L644.0 845.6 L646.0 844.1 L648.0 842.6 L650.0 841.5 L652.0 840.5 L654.0 839.2 L656.0 837.4 L658.0 835.9 L660.0 834.7 L662.0 833.4 L664.0 831.6 L666.0 829.6 L668.0 828.0 L670.0 826.4 L672.0 824.7 L674.0 823.1 L676.0 821.6 L678.0 820.4 L680.0 819.5 L682.0 818.6 L684.0 817.5 L686.0 816.1 L688.0 814.9 L690.0 814.2 L692.0 813.7 L694.0 812.8 L696.0 811.6 L698.0 810.6 L700.0 809.8 L702.0 808.8 L704.0 807.4 L706.0 805.8 L708.0 804.6 L710.0 803.9 L712.0 802.9 L714.0 800.8 L716.0 798.3 L718.0 796.3 L720.0 795.1 L722.0 794.7 L724.0 794.3 L726.0 793.4 L728.0 792.5 L730.0 791.6 L732.0 790.5 L734.0 789.4 L736.0 788.3 L738.0 787.0 L740.0 785.7 L742.0 784.2 L744.0 783.1 L746.0 782.4 L748.0 781.6 L750.0 780.7 L752.0 779.7 L754.0 778.4 L756.0 776.9 L758.0 775.6 L760.0 774.7 L762.0 773.8 L764.0 773.1 L766.0 772.3 L768.0 771.7 L770.0 771.4 L772.0 771.1 L774.0 770.8 L776.0 770.1 L778.0 768.8 L780.0 767.4 L782.0 766.5 L784.0 766.2 L786.0 765.8 L788.0 764.8 L790.0 763.4 L792.0 762.4 L794.0 761.7 L796.0 760.8 L798.0 759.7 L800.0 758.8 L802.0 758.1 L804.0 757.2 L806.0 755.7 L808.0 754.2 L810.0 753.1 L812.0 752.3 L814.0 751.4 L816.0 750.4 L818.0 749.5 L820.0 748.5 L822.0 747.1 L824.0 745.2 L826.0 743.5 L828.0 742.5 L830.0 741.8 L832.0 741.3 L834.0 741.0 L836.0 740.3 L838.0 739.3 L840.0 738.3 L842.0 737.6 L844.0 736.8 L846.0 735.8 L848.0 734.7 L850.0 733.6 L852.0 732.4 L854.0 731.0 L856.0 729.5 L858.0 728.6 L860.0 728.2 L862.0 727.8 L864.0 727.3 L866.0 726.7 L868.0 726.2 L870.0 725.6 L872.0 724.8 L874.0 723.9 L876.0 723.3 L878.0 722.6 L880.0 721.1 L882.0 719.6 L884.0 718.6 L886.0 717.6 L888.0 716.5 L890.0 715.6 L892.0 714.9 L894.0 714.3 L896.0 713.6 L898.0 712.8 L900.0 712.0 L902.0 711.2 L904.0 710.5 L906.0 710.2 L908.0 710.0 L910.0 709.7 L912.0 708.7 L914.0 707.6 L916.0 706.8 L918.0 706.4 L920.0 706.2 L922.0 704.9 L924.0 704.6 L926.0 704.3 L928.0 704.2 L930.0 704.3 L932.0 704.2 L934.0 703.9 L936.0 703.8 L938.0 704.1 L940.0 704.3 L942.0 704.0 L944.0 703.3 L946.0 702.6 L948.0 702.1 L950.0 702.3 L952.0 703.0 L954.0 703.5 L956.0 703.6 L958.0 703.1 L960.0 702.9 L962.0 703.2 L964.0 703.7 L966.0 704.2 L968.0 704.7 L970.0 705.1 L972.0 705.5 L974.0 705.6 L976.0 705.7 L978.0 706.0 L980.0 706.5 L982.0 707.2 L984.0 707.9 L986.0 708.3 L988.0 708.7 L990.0 709.7 L992.0 710.7 L994.0 711.3 L996.0 711.6 L998.0 711.9 L1000.0 712.4 L1002.0 713.3 L1004.0 714.3 L1006.0 715.1 L1008.0 716.0 L1010.0 717.2 L1012.0 718.5 L1014.0 719.5 L1016.0 720.3 L1018.0 721.3 L1020.0 722.4 L1022.0 723.4 L1024.0 724.4 L1026.0 725.6 L1028.0 726.9 L1030.0 728.2 L1032.0 729.8 L1034.0 731.6 L1036.0 733.3 L1038.0 734.7 L1040.0 736.1 L1042.0 737.6 L1044.0 739.2 L1046.0 740.8 L1048.0 742.3 L1050.0 743.9 L1052.0 745.5 L1054.0 747.1 L1056.0 748.8 L1058.0 750.5 L1060.0 752.2 L1062.0 754.0 L1064.0 756.1 L1066.0 758.1 L1068.0 760.2 L1070.0 762.5 L1072.0 765.0 L1074.0 767.5 L1076.0 769.8 L1078.0 771.9 L1080.0 773.9 L1082.0 775.8 L1084.0 778.0 L1086.0 780.6 L1088.0 783.3 L1090.0 785.8 L1092.0 788.0 L1094.0 790.2 L1096.0 792.6 L1098.0 795.3 L1100.0 798.2 L1102.0 801.1 L1104.0 803.7 L1106.0 806.0 L1108.0 808.2 L1110.0 810.8 L1112.0 813.7 L1114.0 816.5 L1116.0 819.2 L1118.0 822.1 L1120.0 824.9 L1122.0 827.6 L1124.0 830.4 L1126.0 833.4 L1128.0 836.3 L1130.0 839.1 L1132.0 841.8 L1134.0 844.6 L1136.0 847.6 L1138.0 850.5 L1140.0 853.4 L1142.0 856.1 L1144.0 858.9 L1146.0 861.9 L1148.0 865.0 L1150.0 868.1 L1152.0 871.3 L1154.0 874.6 L1156.0 877.9 L1158.0 881.0 L1160.0 884.0 L1162.0 887.1 L1164.0 890.4 L1166.0 893.6 L1168.0 896.6 L1170.0 899.4 L1172.0 902.6 L1174.0 906.0 L1176.0 909.2 L1178.0 911.9 L1180.0 914.6 L1182.0 917.5 L1184.0 920.6 L1186.0 923.5 L1188.0 926.3 L1190.0 929.3 L1192.0 932.6 L1194.0 936.0 L1196.0 939.2 L1198.0 942.1 L1200.0 944.9 L1202.0 947.7 L1204.0 950.3 L1206.0 952.6 L1208.0 954.9 L1210.0 957.4 L1212.0 960.0 L1214.0 962.5 L1216.0 965.1 L1218.0 968.0 L1220.0 971.3 L1222.0 974.5 L1224.0 977.6 L1226.0 980.5 L1228.0 983.4 L1230.0 986.4 L1232.0 989.5 L1234.0 992.5 L1236.0 995.3 L1238.0 997.7 L1240.0 1000.0 L1242.0 1002.6 L1244.0 1005.3 L1246.0 1008.1 L1248.0 1010.8 L1250.0 1013.5 L1252.0 1016.0 L1254.0 1018.6 L1256.0 1021.3 L1258.0 1024.1 L1260.0 1026.9 L1262.0 1029.6 L1264.0 1032.1 L1266.0 1034.6 L1268.0 1037.1 L1270.0 1039.4 L1272.0 1041.7 L1274.0 1043.9 L1276.0 1046.1 L1278.0 1048.5 L1280.0 1050.8 L1282.0 1053.0 L1284.0 1055.5 L1286.0 1058.2 L1288.0 1060.9 L1290.0 1063.3 L1292.0 1065.3 L1294.0 1067.4 L1296.0 1069.6 L1298.0 1072.1 L1300.0 1074.4 L1302.0 1076.3 L1304.0 1078.0 L1306.0 1079.6 L1308.0 1081.6 L1310.0 1083.9 L1312.0 1086.2 L1314.0 1088.3 L1316.0 1090.1 L1318.0 1091.8 L1320.0 1093.8 L1322.0 1096.0 L1324.0 1098.1 L1326.0 1100.0 L1328.0 1101.5 L1330.0 1102.8 L1332.0 1104.4 L1334.0 1106.1 L1336.0 1107.7 L1338.0 1109.0 L1340.0 1110.2 L1342.0 1111.5 L1344.0 1112.9 L1346.0 1114.5 L1348.0 1116.2 L1350.0 1117.8 L1352.0 1119.3 L1354.0 1120.5 L1356.0 1121.7 L1358.0 1123.0 L1360.0 1124.2 L1362.0 1125.3 L1364.0 1126.1 L1366.0 1127.0 L1368.0 1128.3 L1370.0 1129.9 L1372.0 1131.8 L1374.0 1133.4 L1376.0 1134.4 L1378.0 1134.9 L1380.0 1135.7 L1382.0 1137.1 L1384.0 1138.7 L1386.0 1139.7 L1388.0 1140.3 L1390.0 1140.7 L1392.0 1141.1 L1394.0 1141.9 L1396.0 1143.1 L1398.0 1144.5 L1400.0 1145.6 L1402.0 1146.4 L1404.0 1147.3 L1406.0 1148.2 L1408.0 1148.8 L1410.0 1149.4 L1412.0 1150.0 L1414.0 1150.6 L1416.0 1151.2 L1418.0 1151.7 L1420.0 1152.4 L1422.0 1153.3 L1424.0 1154.3 L1426.0 1155.4 L1428.0 1156.4 L1430.0 1157.3 L1432.0 1158.1 L1434.0 1158.6 L1436.0 1159.0 L1438.0 1159.3 L1440.0 1159.8 L1442.0 1160.2 L1444.0 1160.5 L1446.0 1160.8 L1448.0 1161.3 L1450.0 1162.1 L1452.0 1162.9 L1454.0 1163.4 L1456.0 1163.7 L1458.0 1164.0 L1460.0 1164.7 L1462.0 1165.5 L1464.0 1166.0 L1466.0 1166.5 L1468.0 1167.0 L1470.0 1167.4 L1472.0 1167.4 L1474.0 1167.3 L1476.0 1167.5 L1478.0 1167.9 L1480.0 1168.2 L1482.0 1168.7 L1484.0 1169.2 L1486.0 1169.6 L1488.0 1170.0 L1490.0 1170.4 L1492.0 1170.6 L1494.0 1170.7 L1496.0 1170.9 L1498.0 1171.2 L1500.0 1171.5 L1502.0 1171.7 L1504.0 1171.9 L1506.0 1172.4 L1508.0 1172.9 L1510.0 1173.1 L1512.0 1173.1 L1514.0 1172.9 L1516.0 1172.8 L1518.0 1173.0 L1520.0 1173.3 L1522.0 1173.5 L1524.0 1173.6 L1526.0 1173.6 L1528.0 1173.9 L1530.0 1174.3 L1532.0 1174.5 L1534.0 1174.5 L1536.0 1174.5 L1538.0 1174.5 L1540.0 1174.4 L1542.0 1174.5 L1544.0 1174.8 L1546.0 1174.9 L1548.0 1175.0 L1550.0 1175.1 L1552.0 1175.2 L1554.0 1175.3 L1556.0 1175.3 L1558.0 1175.5 L1560.0 1175.9 L1562.0 1176.2 L1564.0 1176.3 L1566.0 1176.5 L1568.0 1176.7 L1570.0 1176.6 L1572.0 1176.4 L1574.0 1176.4 L1576.0 1176.6 L1578.0 1176.7 L1580.0 1176.8 L1582.0 1176.7 L1584.0 1176.7 L1586.0 1176.5 L1588.0 1176.0 L1590.0 1175.4 L1592.0 1175.2 L1594.0 1175.6 L1596.0 1176.2 L1598.0 1176.9 L1600.0 1177.4 L1602.0 1177.6 L1604.0 1177.5 L1606.0 1177.4 L1608.0 1177.7 L1610.0 1178.1 L1612.0 1178.2 L1614.0 1178.0 L1616.0 1177.6 L1618.0 1177.5 L1620.0 1177.4 L1622.0 1177.2 L1624.0 1177.0 L1626.0 1176.9 L1628.0 1176.9 L1630.0 1176.9 L1632.0 1176.9 L1634.0 1176.8 L1636.0 1176.5 L1638.0 1176.4 L1640.0 1176.8 L1642.0 1177.3 L1644.0 1177.7 L1646.0 1178.1 L1648.0 1178.2 L1650.0 1178.2 L1652.0 1178.0 L1654.0 1177.9 L1656.0 1178.1 L1658.0 1178.3 L1660.0 1178.4 L1662.0 1178.4 L1664.0 1178.1 L1666.0 1178.0 L1668.0 1178.0 L1670.0 1177.9 L1672.0 1177.6 L1674.0 1177.3 L1676.0 1177.2 L1678.0 1177.6 L1680.0 1178.3 L1682.0 1178.7 L1684.0 1178.5 L1686.0 1178.2 L1688.0 1178.1 L1690.0 1178.1 L1692.0 1178.1 L1694.0 1178.0 L1696.0 1178.0 L1698.0 1178.2 L1700.0 1178.3"/>
<path class="c" stroke="#00AE64" d="M108.0 878.2 L110.0 879.8 L112.0 881.4 L114.0 883.2 L116.0 885.0 L118.0 886.8 L120.0 888.7 L122.0 890.8 L124.0 893.2 L126.0 895.4 L128.0 897.5 L130.0 899.7 L132.0 902.0 L134.0 904.1 L136.0 906.2 L138.0 908.4 L140.0 910.8 L142.0 913.0 L144.0 915.1 L146.0 917.2 L148.0 919.4 L150.0 921.5 L152.0 923.6 L154.0 925.5 L156.0 927.0 L158.0 928.4 L160.0 930.0 L162.0 932.0 L164.0 934.0 L166.0 936.0 L168.0 937.8 L170.0 939.5 L172.0 941.1 L174.0 942.6 L176.0 944.2 L178.0 946.1 L180.0 948.3 L182.0 950.7 L184.0 952.8 L186.0 954.5 L188.0 956.2 L190.0 958.0 L192.0 959.6 L194.0 961.1 L196.0 962.7 L198.0 964.8 L200.0 967.3 L202.0 969.5 L204.0 971.2 L206.0 972.8 L208.0 974.3 L210.0 975.7 L212.0 977.0 L214.0 978.1 L216.0 979.3 L218.0 980.4 L220.0 981.6 L222.0 983.1 L224.0 984.5 L226.0 985.7 L228.0 986.5 L230.0 987.5 L232.0 988.9 L234.0 990.2 L236.0 991.0 L238.0 991.7 L240.0 992.5 L242.0 993.5 L244.0 994.8 L246.0 996.0 L248.0 997.3 L250.0 998.4 L252.0 999.5 L254.0 1000.6 L256.0 1001.5 L258.0 1002.1 L260.0 1002.8 L262.0 1003.4 L264.0 1004.0 L266.0 1004.7 L268.0 1005.7 L270.0 1006.7 L272.0 1007.4 L274.0 1007.9 L276.0 1008.5 L278.0 1009.3 L280.0 1010.4 L282.0 1011.6 L284.0 1012.5 L286.0 1013.3 L288.0 1013.9 L290.0 1014.6 L292.0 1015.3 L294.0 1016.0 L296.0 1017.0 L298.0 1018.1 L300.0 1019.2 L302.0 1019.7 L304.0 1019.9 L306.0 1020.0 L308.0 1020.5 L310.0 1021.0 L312.0 1021.4 L314.0 1021.7 L316.0 1022.2 L318.0 1022.8 L320.0 1023.5 L322.0 1024.0 L324.0 1024.4 L326.0 1024.5 L328.0 1024.8 L330.0 1025.3 L332.0 1025.8 L334.0 1026.0 L336.0 1026.2 L338.0 1026.5 L340.0 1026.8 L342.0 1027.2 L344.0 1027.7 L346.0 1028.1 L348.0 1028.3 L350.0 1028.5 L352.0 1028.8 L354.0 1029.3 L356.0 1029.7 L358.0 1030.1 L360.0 1030.6 L362.0 1031.0 L364.0 1031.3 L366.0 1031.5 L368.0 1031.6 L370.0 1031.9 L372.0 1032.3 L374.0 1032.7 L376.0 1032.9 L378.0 1033.2 L380.0 1033.6 L382.0 1034.0 L384.0 1034.5 L386.0 1035.3 L388.0 1035.9 L390.0 1036.4 L392.0 1036.6 L394.0 1036.8 L396.0 1037.1 L398.0 1037.7 L400.0 1038.1 L402.0 1038.5 L404.0 1038.8 L406.0 1039.1 L408.0 1039.4 L410.0 1039.9 L412.0 1040.6 L414.0 1041.4 L416.0 1041.9 L418.0 1042.0 L420.0 1042.0 L422.0 1042.3 L424.0 1042.6 L426.0 1042.7 L428.0 1042.7 L430.0 1042.8 L432.0 1043.0 L434.0 1043.0 L436.0 1043.2 L438.0 1043.5 L440.0 1043.6 L442.0 1043.7 L444.0 1043.9 L446.0 1044.3 L448.0 1044.9 L450.0 1045.7 L452.0 1046.4 L454.0 1046.9 L456.0 1047.3 L458.0 1047.8 L460.0 1048.4 L462.0 1048.7 L464.0 1049.0 L466.0 1049.4 L468.0 1049.9 L470.0 1050.4 L472.0 1051.0 L474.0 1051.3 L476.0 1051.2 L478.0 1051.2 L480.0 1051.6 L482.0 1052.4 L484.0 1053.2 L486.0 1053.7 L488.0 1054.1 L490.0 1054.3 L492.0 1054.6 L494.0 1054.7 L496.0 1055.1 L498.0 1055.6 L500.0 1056.2 L502.0 1056.7 L504.0 1057.1 L506.0 1057.3 L508.0 1057.4 L510.0 1057.5 L512.0 1057.7 L514.0 1058.0 L516.0 1058.6 L518.0 1059.3 L520.0 1059.8 L522.0 1060.0 L524.0 1060.0 L526.0 1060.1 L528.0 1060.3 L530.0 1060.7 L532.0 1061.2 L534.0 1061.6 L536.0 1061.8 L538.0 1062.0 L540.0 1062.3 L542.0 1062.7 L544.0 1063.2 L546.0 1063.7 L548.0 1064.2 L550.0 1064.5 L552.0 1064.5 L554.0 1064.4 L556.0 1064.5 L558.0 1064.9 L560.0 1065.2 L562.0 1065.5 L564.0 1065.7 L566.0 1066.0 L568.0 1066.2 L570.0 1066.4 L572.0 1066.8 L574.0 1067.1 L576.0 1067.4 L578.0 1067.6 L580.0 1067.6 L582.0 1067.5 L584.0 1067.3 L586.0 1067.3 L588.0 1067.4 L590.0 1067.5 L592.0 1067.9 L594.0 1068.1 L596.0 1068.2 L598.0 1068.2 L600.0 1068.2 L602.0 1068.2 L604.0 1068.1 L606.0 1068.0 L608.0 1068.2 L610.0 1068.5 L612.0 1068.8 L614.0 1069.0 L616.0 1069.2 L618.0 1069.2 L620.0 1069.1 L622.0 1069.1 L624.0 1069.4 L626.0 1069.9 L628.0 1070.1 L630.0 1069.9 L632.0 1069.8 L634.0 1070.0 L636.0 1070.3 L638.0 1070.3 L640.0 1070.2 L642.0 1070.3 L644.0 1070.4 L646.0 1070.7 L648.0 1071.0 L650.0 1071.2 L652.0 1071.1 L654.0 1071.1 L656.0 1071.2 L658.0 1071.2 L660.0 1071.0 L662.0 1070.8 L664.0 1070.8 L666.0 1070.9 L668.0 1070.9 L670.0 1070.7 L672.0 1070.9 L674.0 1071.5 L676.0 1072.0 L678.0 1072.2 L680.0 1072.1 L682.0 1071.9 L684.0 1072.1 L686.0 1072.5 L688.0 1072.9 L690.0 1073.0 L692.0 1073.0 L694.0 1072.9 L696.0 1073.2 L698.0 1073.6 L700.0 1074.0 L702.0 1074.0 L704.0 1073.9 L706.0 1073.7 L708.0 1073.6 L710.0 1073.4 L712.0 1073.5 L714.0 1073.8 L716.0 1074.2 L718.0 1074.3 L720.0 1074.4 L722.0 1074.3 L724.0 1074.0 L726.0 1073.8 L728.0 1073.9 L730.0 1074.4 L732.0 1074.8 L734.0 1075.0 L736.0 1075.0 L738.0 1075.3 L740.0 1075.6 L742.0 1075.5 L744.0 1075.4 L746.0 1075.5 L748.0 1075.7 L750.0 1075.6 L752.0 1075.5 L754.0 1075.6 L756.0 1075.8 L758.0 1076.0 L760.0 1076.3 L762.0 1076.7 L764.0 1077.0 L766.0 1077.1 L768.0 1077.2 L770.0 1077.2 L772.0 1077.2 L774.0 1077.3 L776.0 1077.5 L778.0 1077.7 L780.0 1077.9 L782.0 1078.1 L784.0 1078.5 L786.0 1078.9 L788.0 1079.0 L790.0 1078.7 L792.0 1078.4 L794.0 1078.4 L796.0 1078.7 L798.0 1079.1 L800.0 1079.6 L802.0 1080.1 L804.0 1080.4 L806.0 1080.6 L808.0 1080.9 L810.0 1080.8 L812.0 1080.2 L814.0 1079.7 L816.0 1079.7 L818.0 1079.8 L820.0 1079.8 L822.0 1080.1 L824.0 1080.4 L826.0 1080.7 L828.0 1081.0 L830.0 1081.2 L832.0 1081.1 L834.0 1081.0 L836.0 1080.9 L838.0 1081.0 L840.0 1081.1 L842.0 1081.2 L844.0 1080.9 L846.0 1080.8 L848.0 1080.9 L850.0 1081.3 L852.0 1081.7 L854.0 1081.9 L856.0 1081.7 L858.0 1081.4 L860.0 1081.5 L862.0 1081.9 L864.0 1082.2 L866.0 1082.3 L868.0 1082.3 L870.0 1082.0 L872.0 1081.6 L874.0 1081.1 L876.0 1080.8 L878.0 1081.1 L880.0 1081.6 L882.0 1082.1 L884.0 1082.4 L886.0 1082.5 L888.0 1082.6 L890.0 1082.5 L892.0 1082.3 L894.0 1082.2 L896.0 1082.3 L898.0 1082.7 L900.0 1083.1 L902.0 1083.5 L904.0 1083.7 L906.0 1083.7 L908.0 1083.4 L910.0 1083.2 L912.0 1083.1 L914.0 1083.1 L916.0 1083.1 L918.0 1083.2 L920.0 1083.5 L922.0 1083.7 L924.0 1083.8 L926.0 1084.0 L928.0 1084.2 L930.0 1084.2 L932.0 1083.9 L934.0 1083.7 L936.0 1084.0 L938.0 1084.3 L940.0 1084.4 L942.0 1084.3 L944.0 1084.1 L946.0 1083.9 L948.0 1084.0 L950.0 1084.4 L952.0 1084.7 L954.0 1084.8 L956.0 1084.9 L958.0 1085.0 L960.0 1085.2 L962.0 1085.5 L964.0 1085.8 L966.0 1086.1 L968.0 1086.4 L970.0 1086.8 L972.0 1087.1 L974.0 1087.3 L976.0 1087.4 L978.0 1087.6 L980.0 1087.8 L982.0 1088.1 L984.0 1088.2 L986.0 1088.3 L988.0 1088.7 L990.0 1089.2 L992.0 1089.5 L994.0 1089.5 L996.0 1089.5 L998.0 1089.8 L1000.0 1090.0 L1002.0 1090.1 L1004.0 1090.2 L1006.0 1090.1 L1008.0 1090.3 L1010.0 1090.6 L1012.0 1091.0 L1014.0 1091.3 L1016.0 1091.7 L1018.0 1092.1 L1020.0 1092.2 L1022.0 1092.3 L1024.0 1092.6 L1026.0 1093.0 L1028.0 1093.3 L1030.0 1093.4 L1032.0 1093.7 L1034.0 1094.1 L1036.0 1094.6 L1038.0 1095.0 L1040.0 1095.3 L1042.0 1095.5 L1044.0 1095.8 L1046.0 1096.1 L1048.0 1096.5 L1050.0 1096.8 L1052.0 1097.0 L1054.0 1097.3 L1056.0 1097.7 L1058.0 1098.2 L1060.0 1098.5 L1062.0 1098.8 L1064.0 1099.1 L1066.0 1099.5 L1068.0 1100.0 L1070.0 1100.5 L1072.0 1100.8 L1074.0 1101.2 L1076.0 1101.5 L1078.0 1101.8 L1080.0 1102.2 L1082.0 1102.7 L1084.0 1103.2 L1086.0 1103.7 L1088.0 1104.3 L1090.0 1104.9 L1092.0 1105.3 L1094.0 1105.7 L1096.0 1106.1 L1098.0 1106.8 L1100.0 1107.3 L1102.0 1107.7 L1104.0 1108.2 L1106.0 1108.7 L1108.0 1109.3 L1110.0 1109.7 L1112.0 1110.1 L1114.0 1110.6 L1116.0 1111.1 L1118.0 1111.6 L1120.0 1112.1 L1122.0 1112.7 L1124.0 1113.2 L1126.0 1113.4 L1128.0 1113.6 L1130.0 1113.8 L1132.0 1114.1 L1134.0 1114.7 L1136.0 1115.3 L1138.0 1115.7 L1140.0 1115.9 L1142.0 1116.2 L1144.0 1116.6 L1146.0 1117.1 L1148.0 1117.7 L1150.0 1118.2 L1152.0 1118.5 L1154.0 1119.0 L1156.0 1119.5 L1158.0 1120.1 L1160.0 1120.5 L1162.0 1120.7 L1164.0 1121.1 L1166.0 1121.5 L1168.0 1121.9 L1170.0 1122.2 L1172.0 1122.5 L1174.0 1122.9 L1176.0 1123.5 L1178.0 1124.1 L1180.0 1124.7 L1182.0 1125.2 L1184.0 1125.6 L1186.0 1126.0 L1188.0 1126.6 L1190.0 1127.1 L1192.0 1127.6 L1194.0 1127.9 L1196.0 1128.3 L1198.0 1128.9 L1200.0 1129.4 L1202.0 1129.9 L1204.0 1130.4 L1206.0 1130.8 L1208.0 1131.1 L1210.0 1131.4 L1212.0 1131.7 L1214.0 1132.0 L1216.0 1132.5 L1218.0 1133.0 L1220.0 1133.4 L1222.0 1133.7 L1224.0 1134.2 L1226.0 1134.9 L1228.0 1135.5 L1230.0 1136.0 L1232.0 1136.4 L1234.0 1137.1 L1236.0 1137.9 L1238.0 1138.5 L1240.0 1138.9 L1242.0 1139.4 L1244.0 1139.7 L1246.0 1140.1 L1248.0 1140.4 L1250.0 1140.7 L1252.0 1141.1 L1254.0 1141.3 L1256.0 1141.5 L1258.0 1141.8 L1260.0 1142.2 L1262.0 1142.6 L1264.0 1142.8 L1266.0 1142.9 L1268.0 1143.2 L1270.0 1143.7 L1272.0 1144.2 L1274.0 1144.5 L1276.0 1144.8 L1278.0 1144.9 L1280.0 1145.2 L1282.0 1145.6 L1284.0 1146.0 L1286.0 1146.2 L1288.0 1146.4 L1290.0 1146.7 L1292.0 1146.9 L1294.0 1147.1 L1296.0 1147.3 L1298.0 1147.7 L1300.0 1148.2 L1302.0 1148.8 L1304.0 1149.2 L1306.0 1149.4 L1308.0 1149.5 L1310.0 1149.6 L1312.0 1149.8 L1314.0 1150.2 L1316.0 1150.8 L1318.0 1151.4 L1320.0 1151.9 L1322.0 1152.3 L1324.0 1152.6 L1326.0 1152.9 L1328.0 1153.1 L1330.0 1153.3 L1332.0 1153.4 L1334.0 1153.6 L1336.0 1153.7 L1338.0 1153.9 L1340.0 1154.2 L1342.0 1154.4 L1344.0 1154.8 L1346.0 1155.1 L1348.0 1155.4 L1350.0 1155.7 L1352.0 1155.9 L1354.0 1156.2 L1356.0 1156.5 L1358.0 1156.8 L1360.0 1157.1 L1362.0 1157.4 L1364.0 1157.7 L1366.0 1158.1 L1368.0 1158.5 L1370.0 1158.8 L1372.0 1159.2 L1374.0 1159.4 L1376.0 1159.5 L1378.0 1159.6 L1380.0 1159.8 L1382.0 1160.1 L1384.0 1160.5 L1386.0 1161.0 L1388.0 1161.2 L1390.0 1161.3 L1392.0 1161.3 L1394.0 1161.5 L1396.0 1161.8 L1398.0 1162.1 L1400.0 1162.4 L1402.0 1162.6 L1404.0 1162.8 L1406.0 1163.0 L1408.0 1163.2 L1410.0 1163.5 L1412.0 1163.7 L1414.0 1163.9 L1416.0 1164.2 L1418.0 1164.4 L1420.0 1164.5 L1422.0 1164.6 L1424.0 1164.6 L1426.0 1164.5 L1428.0 1164.6 L1430.0 1164.9 L1432.0 1165.2 L1434.0 1165.3 L1436.0 1165.2 L1438.0 1165.2 L1440.0 1165.3 L1442.0 1165.3 L1444.0 1165.2 L1446.0 1165.1 L1448.0 1165.2 L1450.0 1165.4 L1452.0 1165.5 L1454.0 1165.4 L1456.0 1165.3 L1458.0 1165.1 L1460.0 1165.1 L1462.0 1165.2 L1464.0 1165.3 L1466.0 1165.3 L1468.0 1165.2 L1470.0 1165.3 L1472.0 1165.4 L1474.0 1165.3 L1476.0 1165.1 L1478.0 1165.1 L1480.0 1165.3 L1482.0 1165.7 L1484.0 1165.8 L1486.0 1165.8 L1488.0 1165.7 L1490.0 1165.8 L1492.0 1165.9 L1494.0 1165.9 L1496.0 1165.8 L1498.0 1165.9 L1500.0 1165.9 L1502.0 1166.0 L1504.0 1166.1 L1506.0 1166.2 L1508.0 1166.3 L1510.0 1166.4 L1512.0 1166.5 L1514.0 1166.5 L1516.0 1166.7 L1518.0 1166.9 L1520.0 1167.1 L1522.0 1167.3 L1524.0 1167.5 L1526.0 1167.6 L1528.0 1167.6 L1530.0 1167.8 L1532.0 1168.2 L1534.0 1168.5 L1536.0 1168.6 L1538.0 1168.5 L1540.0 1168.4 L1542.0 1168.4 L1544.0 1168.5 L1546.0 1168.6 L1548.0 1168.6 L1550.0 1168.6 L1552.0 1168.7 L1554.0 1169.0 L1556.0 1169.1 L1558.0 1169.2 L1560.0 1169.4 L1562.0 1169.6 L1564.0 1169.5 L1566.0 1169.4 L1568.0 1169.4 L1570.0 1169.6 L1572.0 1169.9 L1574.0 1170.1 L1576.0 1170.3 L1578.0 1170.4 L1580.0 1170.4 L1582.0 1170.4 L1584.0 1170.5 L1586.0 1170.6 L1588.0 1170.5 L1590.0 1170.5 L1592.0 1170.4 L1594.0 1170.4 L1596.0 1170.3 L1598.0 1170.5 L1600.0 1170.8 L1602.0 1170.9 L1604.0 1170.8 L1606.0 1170.8 L1608.0 1170.9 L1610.0 1170.8 L1612.0 1170.7 L1614.0 1170.6 L1616.0 1170.6 L1618.0 1170.7 L1620.0 1170.8 L1622.0 1170.7 L1624.0 1170.8 L1626.0 1170.9 L1628.0 1171.0 L1630.0 1171.0 L1632.0 1171.1 L1634.0 1171.1 L1636.0 1171.2 L1638.0 1171.4 L1640.0 1171.5 L1642.0 1171.4 L1644.0 1171.2 L1646.0 1171.2 L1648.0 1171.4 L1650.0 1171.5 L1652.0 1171.5 L1654.0 1171.5 L1656.0 1171.6 L1658.0 1171.7 L1660.0 1171.8 L1662.0 1171.9 L1664.0 1171.9 L1666.0 1171.9 L1668.0 1171.9 L1670.0 1171.8 L1672.0 1171.8 L1674.0 1171.7 L1676.0 1171.6 L1678.0 1171.5 L1680.0 1171.5 L1682.0 1171.6 L1684.0 1171.7 L1686.0 1171.8 L1688.0 1172.0 L1690.0 1172.0 L1692.0 1172.0 L1694.0 1171.9 L1696.0 1171.9 L1698.0 1172.0 L1700.0 1172.1"/>
<path class="c" stroke="#C278E3" d="M108.0 975.7 L110.0 977.5 L112.0 979.4 L114.0 981.2 L116.0 982.8 L118.0 984.2 L120.0 985.7 L122.0 987.6 L124.0 989.6 L126.0 991.3 L128.0 992.1 L130.0 992.8 L132.0 993.8 L134.0 995.1 L136.0 996.3 L138.0 997.3 L140.0 997.9 L142.0 998.2 L144.0 998.5 L146.0 999.4 L148.0 1000.9 L150.0 1002.3 L152.0 1003.3 L154.0 1004.3 L156.0 1005.6 L158.0 1007.0 L160.0 1008.4 L162.0 1009.5 L164.0 1010.1 L166.0 1010.3 L168.0 1010.7 L170.0 1011.7 L172.0 1012.7 L174.0 1013.1 L176.0 1013.1 L178.0 1013.4 L180.0 1014.2 L182.0 1015.4 L184.0 1016.9 L186.0 1018.3 L188.0 1019.4 L190.0 1020.2 L192.0 1021.0 L194.0 1022.0 L196.0 1023.3 L198.0 1024.5 L200.0 1025.4 L202.0 1026.0 L204.0 1026.8 L206.0 1028.1 L208.0 1030.0 L210.0 1032.1 L212.0 1034.1 L214.0 1035.8 L216.0 1037.0 L218.0 1037.9 L220.0 1039.0 L222.0 1039.9 L224.0 1040.5 L226.0 1041.1 L228.0 1042.4 L230.0 1044.1 L232.0 1045.4 L234.0 1046.3 L236.0 1047.2 L238.0 1048.3 L240.0 1049.3 L242.0 1050.2 L244.0 1051.1 L246.0 1052.0 L248.0 1052.5 L250.0 1053.2 L252.0 1054.2 L254.0 1055.4 L256.0 1056.3 L258.0 1056.9 L260.0 1057.4 L262.0 1058.3 L264.0 1059.4 L266.0 1060.2 L268.0 1061.2 L270.0 1062.8 L272.0 1064.2 L274.0 1064.9 L276.0 1064.9 L278.0 1065.0 L280.0 1065.5 L282.0 1066.2 L284.0 1067.0 L286.0 1067.9 L288.0 1068.8 L290.0 1069.4 L292.0 1069.3 L294.0 1069.2 L296.0 1069.6 L298.0 1070.3 L300.0 1070.8 L302.0 1071.2 L304.0 1071.4 L306.0 1071.1 L308.0 1070.5 L310.0 1070.0 L312.0 1070.1 L314.0 1070.3 L316.0 1070.0 L318.0 1069.5 L320.0 1069.1 L322.0 1068.7 L324.0 1068.6 L326.0 1068.4 L328.0 1068.0 L330.0 1067.1 L332.0 1065.7 L334.0 1064.6 L336.0 1064.0 L338.0 1063.7 L340.0 1063.2 L342.0 1062.7 L344.0 1062.1 L346.0 1061.5 L348.0 1060.8 L350.0 1059.7 L352.0 1057.8 L354.0 1055.8 L356.0 1054.1 L358.0 1052.9 L360.0 1052.1 L362.0 1051.3 L364.0 1050.1 L366.0 1048.4 L368.0 1046.5 L370.0 1044.6 L372.0 1042.9 L374.0 1041.5 L376.0 1040.1 L378.0 1038.7 L380.0 1037.5 L382.0 1036.3 L384.0 1034.9 L386.0 1033.0 L388.0 1030.5 L390.0 1027.6 L392.0 1024.9 L394.0 1022.5 L396.0 1020.3 L398.0 1018.0 L400.0 1015.9 L402.0 1014.3 L404.0 1013.1 L406.0 1012.0 L408.0 1010.7 L410.0 1009.3 L412.0 1008.2 L414.0 1006.8 L416.0 1005.0 L418.0 1003.1 L420.0 1000.7 L422.0 998.0 L424.0 995.7 L426.0 993.7 L428.0 991.3 L430.0 988.4 L432.0 985.2 L434.0 982.2 L436.0 979.2 L438.0 976.6 L440.0 974.2 L442.0 971.7 L444.0 969.1 L446.0 966.6 L448.0 964.2 L450.0 961.6 L452.0 959.0 L454.0 956.4 L456.0 953.4 L458.0 950.4 L460.0 947.6 L462.0 945.1 L464.0 942.3 L466.0 939.3 L468.0 936.1 L470.0 933.0 L472.0 930.2 L474.0 927.1 L476.0 923.9 L478.0 920.8 L480.0 918.2 L482.0 916.1 L484.0 913.9 L486.0 911.1 L488.0 907.7 L490.0 904.0 L492.0 900.2 L494.0 897.0 L496.0 894.3 L498.0 891.1 L500.0 887.8 L502.0 885.0 L504.0 882.7 L506.0 880.6 L508.0 878.4 L510.0 876.1 L512.0 873.5 L514.0 870.4 L516.0 866.6 L518.0 863.1 L520.0 860.3 L522.0 857.8 L524.0 855.0 L526.0 851.4 L528.0 847.0 L530.0 842.3 L532.0 837.9 L534.0 834.2 L536.0 831.2 L538.0 828.3 L540.0 825.3 L542.0 822.4 L544.0 819.3 L546.0 815.9 L548.0 812.7 L550.0 809.8 L552.0 806.9 L554.0 803.9 L556.0 801.2 L558.0 798.5 L560.0 795.7 L562.0 793.1 L564.0 790.2 L566.0 787.0 L568.0 783.8 L570.0 780.9 L572.0 777.9 L574.0 774.2 L576.0 769.9 L578.0 765.7 L580.0 762.0 L582.0 758.4 L584.0 754.9 L586.0 751.7 L588.0 748.4 L590.0 745.0 L592.0 741.8 L594.0 738.7 L596.0 735.4 L598.0 732.1 L600.0 729.0 L602.0 725.9 L604.0 722.5 L606.0 719.0 L608.0 715.6 L610.0 712.2 L612.0 709.0 L614.0 706.1 L616.0 703.4 L618.0 700.6 L620.0 697.3 L622.0 693.7 L624.0 690.4 L626.0 687.4 L628.0 684.3 L630.0 681.1 L632.0 678.0 L634.0 674.6 L636.0 671.3 L638.0 668.5 L640.0 666.0 L642.0 663.2 L644.0 660.0 L646.0 656.4 L648.0 652.8 L650.0 649.6 L652.0 646.8 L654.0 644.1 L656.0 641.3 L658.0 638.6 L660.0 636.1 L662.0 633.9 L664.0 631.5 L666.0 628.9 L668.0 626.3 L670.0 624.0 L672.0 621.2 L674.0 617.9 L676.0 614.3 L678.0 611.1 L680.0 608.8 L682.0 607.3 L684.0 606.0 L686.0 604.0 L688.0 601.2 L690.0 598.1 L692.0 595.1 L694.0 592.3 L696.0 589.8 L698.0 587.7 L700.0 586.0 L702.0 584.3 L704.0 581.9 L706.0 578.5 L708.0 574.7 L710.0 571.4 L712.0 568.9 L714.0 567.1 L716.0 565.0 L718.0 562.7 L720.0 560.3 L722.0 557.9 L724.0 555.6 L726.0 553.5 L728.0 551.5 L730.0 549.2 L732.0 546.9 L734.0 545.1 L736.0 543.3 L738.0 541.1 L740.0 539.0 L742.0 537.0 L744.0 534.8 L746.0 532.4 L748.0 530.4 L750.0 529.0 L755.8 527.0 L760.3 541.0 L764.3 538.9 L766.3 538.0 L768.3 536.4 L770.3 534.1 L772.3 531.7 L774.3 529.9 L776.3 528.4 L778.3 526.9 L780.3 525.3 L782.3 523.6 L784.3 521.8 L786.3 519.5 L788.3 516.6 L790.3 513.2 L792.3 510.3 L794.3 508.7 L796.3 507.4 L798.3 505.4 L800.3 503.0 L802.3 501.0 L804.3 499.3 L806.3 497.9 L808.3 496.9 L810.3 495.7 L812.3 493.9 L814.3 491.6 L816.3 489.3 L818.3 486.8 L820.3 484.5 L822.3 482.4 L824.3 480.4 L826.3 478.5 L828.3 476.7 L830.3 474.8 L832.3 472.7 L834.3 470.2 L836.3 467.6 L838.3 465.4 L840.3 463.5 L842.3 461.6 L844.3 459.7 L846.3 458.0 L848.3 456.5 L850.3 454.9 L852.3 453.1 L854.3 451.1 L856.3 449.1 L858.3 447.5 L860.3 446.3 L862.3 444.9 L864.3 443.0 L866.3 441.1 L868.3 439.1 L870.3 437.2 L872.3 435.4 L874.3 433.8 L876.3 432.4 L878.3 431.1 L880.3 429.6 L882.3 427.9 L884.3 426.0 L886.3 423.9 L888.3 421.8 L890.3 420.0 L892.3 418.4 L894.3 417.1 L896.3 415.5 L898.3 413.9 L900.3 412.4 L902.3 411.0 L904.3 410.1 L906.3 409.6 L908.3 409.2 L910.3 408.5 L912.3 407.4 L914.3 406.2 L916.3 404.9 L918.3 403.5 L920.3 402.0 L922.3 400.6 L924.3 399.6 L926.3 398.7 L928.3 397.6 L930.3 397.0 L932.3 396.7 L934.3 396.4 L936.3 395.7 L938.3 394.8 L940.3 393.7 L942.3 392.6 L944.3 391.4 L946.3 390.2 L948.3 389.0 L950.3 388.5 L952.3 388.4 L954.3 388.1 L956.3 387.4 L958.3 386.9 L960.3 386.6 L962.3 386.3 L964.3 386.1 L966.3 386.2 L968.3 386.0 L970.3 385.4 L972.3 384.8 L974.3 385.0 L976.3 385.9 L978.3 386.5 L980.3 386.4 L982.3 386.6 L984.3 387.3 L986.3 387.8 L988.3 388.0 L990.3 388.3 L992.3 388.9 L994.3 390.0 L996.3 390.8 L998.3 391.0 L1000.3 391.6 L1002.3 392.6 L1004.3 393.8 L1006.3 394.9 L1008.3 396.1 L1010.3 397.1 L1012.3 398.2 L1014.3 399.6 L1016.3 401.0 L1018.3 402.3 L1020.3 403.7 L1022.3 405.1 L1024.3 406.8 L1026.3 408.8 L1028.3 410.7 L1030.3 412.3 L1032.3 413.9 L1034.3 415.7 L1036.3 417.5 L1038.3 419.4 L1040.3 421.4 L1042.3 423.3 L1044.3 425.2 L1046.3 427.3 L1048.3 429.8 L1050.3 432.4 L1052.3 435.1 L1054.3 437.5 L1056.3 439.5 L1058.3 441.6 L1060.3 444.3 L1062.3 447.8 L1064.3 451.6 L1066.3 455.4 L1068.3 459.1 L1070.3 462.8 L1072.3 466.3 L1074.3 469.7 L1076.3 472.7 L1078.3 475.6 L1080.3 478.7 L1082.3 482.2 L1084.3 485.9 L1086.3 489.5 L1088.3 493.2 L1090.3 496.9 L1092.3 501.0 L1094.3 505.4 L1096.3 509.8 L1098.3 514.2 L1100.3 518.4 L1102.3 522.4 L1104.3 526.4 L1106.3 530.6 L1108.3 534.7 L1110.3 538.8 L1112.3 543.0 L1114.3 547.4 L1116.3 551.8 L1118.3 556.1 L1120.3 560.3 L1122.3 564.6 L1124.3 569.4 L1126.3 574.5 L1128.3 579.6 L1130.3 584.6 L1132.3 589.4 L1134.3 593.9 L1136.3 598.3 L1138.3 603.2 L1140.3 608.5 L1142.3 613.5 L1144.3 618.3 L1146.3 623.1 L1148.3 627.7 L1150.3 632.1 L1152.3 636.7 L1154.3 641.4 L1156.3 646.2 L1158.3 650.7 L1160.3 654.8 L1162.3 658.6 L1164.3 662.4 L1166.3 666.7 L1168.3 671.8 L1170.3 677.2 L1172.3 682.5 L1174.3 687.4 L1176.3 692.5 L1178.3 697.9 L1180.3 703.7 L1182.3 709.6 L1184.3 715.3 L1186.3 720.8 L1188.3 726.1 L1190.3 731.7 L1192.3 737.7 L1194.3 743.6 L1196.3 749.2 L1198.3 754.9 L1200.3 760.8 L1202.3 766.4 L1204.3 771.8 L1206.3 777.1 L1208.3 782.5 L1210.3 787.6 L1212.3 792.6 L1214.3 797.7 L1216.3 802.8 L1218.3 807.7 L1220.3 812.2 L1222.3 816.5 L1224.3 820.9 L1226.3 825.6 L1228.3 830.6 L1230.3 835.5 L1232.3 840.5 L1234.3 845.7 L1236.3 850.9 L1238.3 856.1 L1240.3 861.4 L1242.3 866.8 L1244.3 872.2 L1246.3 877.5 L1248.3 882.7 L1250.3 887.6 L1252.3 892.4 L1254.3 897.1 L1256.3 901.6 L1258.3 905.9 L1260.3 910.0 L1262.3 914.0 L1264.3 918.1 L1266.3 922.6 L1268.3 927.1 L1270.3 931.6 L1272.3 936.1 L1274.3 940.9 L1276.3 946.2 L1278.3 951.4 L1280.3 956.4 L1282.3 961.1 L1284.3 965.7 L1286.3 970.2 L1288.3 974.3 L1290.3 978.1 L1292.3 981.4 L1294.3 984.8 L1296.3 988.3 L1298.3 991.8 L1300.3 994.9 L1302.3 998.1 L1304.3 1001.8 L1306.3 1005.7 L1308.3 1009.5 L1310.3 1013.0 L1312.3 1016.4 L1314.3 1019.5 L1316.3 1022.6 L1318.3 1025.8 L1320.3 1028.7 L1322.3 1031.4 L1324.3 1034.0 L1326.3 1036.9 L1328.3 1040.0 L1330.3 1042.8 L1332.3 1045.4 L1334.3 1048.4 L1336.3 1051.5 L1338.3 1054.6 L1340.3 1057.4 L1342.3 1059.9 L1344.3 1062.3 L1346.3 1064.9 L1348.3 1067.9 L1350.3 1070.8 L1352.3 1073.6 L1354.3 1076.1 L1356.3 1078.5 L1358.3 1081.1 L1360.3 1083.8 L1362.3 1086.4 L1364.3 1088.9 L1366.3 1091.4 L1368.3 1093.9 L1370.3 1096.2 L1372.3 1098.5 L1374.3 1100.7 L1376.3 1102.9 L1378.3 1104.7 L1380.3 1106.4 L1382.3 1108.3 L1384.3 1110.2 L1386.3 1112.0 L1388.3 1113.7 L1390.3 1115.4 L1392.3 1117.2 L1394.3 1119.2 L1396.3 1121.2 L1398.3 1123.0 L1400.3 1124.7 L1402.3 1126.3 L1404.3 1127.8 L1406.3 1129.2 L1408.3 1130.4 L1410.3 1131.8 L1412.3 1133.3 L1414.3 1134.9 L1416.3 1136.4 L1418.3 1137.9 L1420.3 1139.2 L1422.3 1140.5 L1424.3 1141.7 L1426.3 1143.0 L1428.3 1144.6 L1430.3 1146.3 L1432.3 1147.9 L1434.3 1149.2 L1436.3 1150.5 L1438.3 1152.1 L1440.3 1153.7 L1442.3 1154.9 L1444.3 1155.9 L1446.3 1157.0 L1448.3 1158.2 L1450.3 1159.2 L1452.3 1160.1 L1454.3 1161.0 L1456.3 1161.9 L1458.3 1162.8 L1460.3 1163.8 L1462.3 1165.0 L1464.3 1166.3 L1466.3 1167.6 L1468.3 1168.7 L1470.3 1169.5 L1472.3 1170.3 L1474.3 1171.2 L1476.3 1172.0 L1478.3 1172.4 L1480.3 1172.4 L1482.3 1172.8 L1484.3 1173.8 L1486.3 1175.0 L1488.3 1175.9 L1490.3 1176.4 L1492.3 1176.8 L1494.3 1177.4 L1496.3 1178.1 L1498.3 1178.5 L1500.3 1178.8 L1502.3 1179.3 L1504.3 1179.7 L1506.3 1179.9 L1508.3 1180.1 L1510.3 1180.4 L1512.3 1180.8 L1514.3 1181.1 L1516.3 1181.3 L1518.3 1181.4 L1520.3 1181.6 L1522.3 1181.9 L1524.3 1182.2 L1526.3 1182.6 L1528.3 1182.9 L1530.3 1183.2 L1532.3 1183.4 L1534.3 1183.5 L1536.3 1183.6 L1538.3 1184.0 L1540.3 1184.4 L1542.3 1184.7 L1544.3 1184.6 L1546.3 1184.6 L1548.3 1184.7 L1550.3 1184.9 L1552.3 1185.1 L1554.3 1185.3 L1556.3 1185.3 L1558.3 1185.2 L1560.3 1185.1 L1562.3 1185.2 L1564.3 1185.5 L1566.3 1185.9 L1568.3 1186.2 L1570.3 1186.3 L1572.3 1186.3 L1574.3 1186.6 L1576.3 1187.0 L1578.3 1187.1 L1580.3 1187.1 L1582.3 1186.9 L1584.3 1186.7 L1586.3 1186.3 L1588.3 1185.9 L1590.3 1185.8 L1592.3 1186.2 L1594.3 1186.9 L1596.3 1187.5 L1598.3 1187.7 L1600.3 1187.6 L1602.3 1187.4 L1604.3 1187.6 L1606.3 1188.0 L1608.3 1188.5 L1610.3 1188.9 L1612.3 1189.0 L1614.3 1188.9 L1616.3 1188.6 L1618.3 1188.4 L1620.3 1188.2 L1622.3 1188.2 L1624.3 1188.2 L1626.3 1188.2 L1628.3 1188.2 L1630.3 1188.0 L1632.3 1187.7 L1634.3 1187.0 L1636.3 1186.3 L1638.3 1186.2 L1640.3 1186.6 L1642.3 1187.3 L1644.3 1187.7 L1646.3 1187.9 L1648.3 1187.9 L1650.3 1187.9 L1652.3 1188.0 L1654.3 1188.3 L1656.3 1188.8 L1658.3 1189.4 L1660.3 1189.7 L1662.3 1189.6 L1664.3 1189.1 L1666.3 1188.9 L1668.3 1189.0 L1670.3 1189.1 L1672.3 1189.1 L1674.3 1188.9 L1676.3 1188.6 L1678.3 1188.5 L1680.3 1188.9 L1682.3 1189.4 L1684.3 1189.6 L1686.3 1189.4 L1688.3 1188.9 L1690.3 1188.3 L1692.3 1188.0 L1694.3 1188.1 L1696.3 1188.4 L1698.3 1188.5 L1700.3 1188.5"/>
<path class="c" stroke="#DB9A00" d="M108.0 1019.1 L110.0 1019.7 L112.0 1020.1 L114.0 1020.9 L116.0 1022.2 L118.0 1023.7 L120.0 1025.5 L122.0 1027.5 L124.0 1028.6 L126.0 1028.7 L128.0 1028.8 L130.0 1029.4 L132.0 1030.5 L134.0 1031.8 L136.0 1032.9 L138.0 1033.7 L140.0 1034.3 L142.0 1034.6 L144.0 1035.0 L146.0 1035.8 L148.0 1037.2 L150.0 1039.0 L152.0 1040.0 L154.0 1040.1 L156.0 1040.2 L158.0 1040.8 L160.0 1041.4 L162.0 1042.1 L164.0 1043.4 L166.0 1044.9 L168.0 1045.7 L170.0 1045.7 L172.0 1045.8 L174.0 1046.0 L176.0 1046.3 L178.0 1046.9 L180.0 1047.8 L182.0 1048.8 L184.0 1049.4 L186.0 1050.0 L188.0 1051.1 L190.0 1052.4 L192.0 1053.2 L194.0 1053.4 L196.0 1053.7 L198.0 1054.1 L200.0 1054.5 L202.0 1055.1 L204.0 1055.7 L206.0 1056.5 L208.0 1057.3 L210.0 1058.2 L212.0 1059.0 L214.0 1059.9 L216.0 1061.0 L218.0 1062.1 L220.0 1062.8 L222.0 1063.0 L224.0 1063.3 L226.0 1063.9 L228.0 1064.5 L230.0 1065.1 L232.0 1065.8 L234.0 1066.5 L236.0 1067.0 L238.0 1067.3 L240.0 1067.8 L242.0 1068.6 L244.0 1069.6 L246.0 1070.7 L248.0 1071.7 L250.0 1072.4 L252.0 1072.4 L254.0 1072.2 L256.0 1072.2 L258.0 1072.7 L260.0 1073.2 L262.0 1073.2 L264.0 1073.1 L266.0 1073.4 L268.0 1073.7 L270.0 1073.8 L272.0 1074.2 L274.0 1075.3 L276.0 1076.7 L278.0 1077.6 L280.0 1078.1 L282.0 1078.2 L284.0 1078.0 L286.0 1077.4 L288.0 1076.6 L290.0 1076.1 L292.0 1076.5 L294.0 1077.5 L296.0 1078.1 L298.0 1077.9 L300.0 1077.4 L302.0 1077.1 L304.0 1076.6 L306.0 1075.8 L308.0 1074.9 L310.0 1074.1 L312.0 1074.0 L314.0 1074.5 L316.0 1074.9 L318.0 1074.4 L320.0 1073.3 L322.0 1072.1 L324.0 1071.3 L326.0 1070.7 L328.0 1070.1 L330.0 1069.3 L332.0 1068.5 L334.0 1067.8 L336.0 1066.9 L338.0 1066.1 L340.0 1065.3 L342.0 1064.1 L344.0 1062.9 L346.0 1061.8 L348.0 1060.6 L350.0 1059.3 L352.0 1058.5 L354.0 1058.5 L356.0 1058.7 L358.0 1058.3 L360.0 1057.0 L362.0 1055.6 L364.0 1054.8 L366.0 1053.9 L368.0 1052.3 L370.0 1050.6 L372.0 1048.9 L374.0 1047.2 L376.0 1045.8 L378.0 1044.8 L380.0 1043.8 L382.0 1042.5 L384.0 1040.6 L386.0 1038.6 L388.0 1037.1 L390.0 1036.3 L392.0 1035.5 L394.0 1034.2 L396.0 1032.1 L398.0 1029.6 L400.0 1027.5 L402.0 1025.5 L404.0 1023.4 L406.0 1021.0 L408.0 1018.7 L410.0 1017.1 L412.0 1016.1 L414.0 1015.4 L416.0 1014.4 L418.0 1012.6 L420.0 1010.5 L422.0 1009.0 L424.0 1008.0 L426.0 1006.6 L428.0 1004.5 L430.0 1001.9 L432.0 999.3 L434.0 997.4 L436.0 996.0 L438.0 994.5 L440.0 992.7 L442.0 990.4 L444.0 987.9 L446.0 985.9 L448.0 984.6 L450.0 983.2 L452.0 981.7 L454.0 980.1 L456.0 978.1 L458.0 976.0 L460.0 973.8 L462.0 972.1 L464.0 970.6 L466.0 968.8 L468.0 966.6 L470.0 964.2 L472.0 961.6 L474.0 959.1 L476.0 956.9 L478.0 955.0 L480.0 953.2 L482.0 951.3 L484.0 949.4 L486.0 947.5 L488.0 945.7 L490.0 943.6 L492.0 941.1 L494.0 938.3 L496.0 935.4 L498.0 932.9 L500.0 930.9 L502.0 929.0 L504.0 927.2 L506.0 925.3 L508.0 923.2 L510.0 921.0 L512.0 918.7 L514.0 916.6 L516.0 914.8 L518.0 913.1 L520.0 911.1 L522.0 908.8 L524.0 906.3 L526.0 904.4 L528.0 902.6 L530.0 900.6 L532.0 898.0 L534.0 895.4 L536.0 892.9 L538.0 890.7 L540.0 888.9 L542.0 887.3 L544.0 885.4 L546.0 883.2 L548.0 880.6 L550.0 877.9 L552.0 875.6 L554.0 873.6 L556.0 871.7 L558.0 869.7 L560.0 867.8 L562.0 866.2 L564.0 864.3 L566.0 861.9 L568.0 859.7 L570.0 858.0 L572.0 856.0 L574.0 853.5 L576.0 850.5 L578.0 847.6 L580.0 845.5 L582.0 843.9 L584.0 842.1 L586.0 839.9 L588.0 837.3 L590.0 834.3 L592.0 831.3 L594.0 828.6 L596.0 826.4 L598.0 824.6 L600.0 822.9 L602.0 821.0 L604.0 819.4 L606.0 817.8 L608.0 816.0 L610.0 813.8 L612.0 811.4 L614.0 808.8 L616.0 806.6 L618.0 804.7 L620.0 802.7 L622.0 800.4 L624.0 798.2 L626.0 796.3 L628.0 794.1 L630.0 791.6 L632.0 789.4 L634.0 787.8 L636.0 786.5 L638.0 784.8 L640.0 782.9 L642.0 781.0 L644.0 779.4 L646.0 777.8 L648.0 776.5 L650.0 775.1 L652.0 773.6 L654.0 771.9 L656.0 770.1 L658.0 767.7 L660.0 765.4 L662.0 763.9 L664.0 763.1 L666.0 761.9 L668.0 760.4 L670.0 758.8 L672.0 757.3 L674.0 755.8 L676.0 754.3 L678.0 752.5 L680.0 750.6 L682.0 748.9 L684.0 747.4 L686.0 746.0 L688.0 744.0 L690.0 741.6 L692.0 739.2 L694.0 737.5 L696.0 736.5 L698.0 735.6 L700.0 734.5 L702.0 733.2 L704.0 731.7 L706.0 730.3 L708.0 728.8 L710.0 727.1 L712.0 725.6 L714.0 724.8 L716.0 723.8 L718.0 722.0 L720.0 719.7 L722.0 717.8 L724.0 716.7 L726.0 715.4 L728.0 713.3 L730.0 710.9 L732.0 709.6 L734.0 709.5 L736.0 709.2 L738.0 707.8 L740.0 706.4 L742.0 705.6 L744.0 704.8 L746.0 703.5 L748.0 702.0 L750.0 700.8 L752.0 700.1 L756.8 698.0 L761.0 708.0 L765.0 704.7 L767.0 703.3 L769.0 701.9 L771.0 700.3 L773.0 698.8 L775.0 697.7 L777.0 697.1 L779.0 696.6 L781.0 695.8 L783.0 694.7 L785.0 693.6 L787.0 692.5 L789.0 691.7 L791.0 690.8 L793.0 689.6 L795.0 687.8 L797.0 685.9 L799.0 684.4 L801.0 682.8 L803.0 680.8 L805.0 679.0 L807.0 678.2 L809.0 678.1 L811.0 677.7 L813.0 676.6 L815.0 675.2 L817.0 673.7 L819.0 672.1 L821.0 670.9 L823.0 669.8 L825.0 668.6 L827.0 667.3 L829.0 666.2 L831.0 665.3 L833.0 664.2 L835.0 662.8 L837.0 661.6 L839.0 660.8 L841.0 660.4 L843.0 659.6 L845.0 658.5 L847.0 657.3 L849.0 656.0 L851.0 654.3 L853.0 652.2 L855.0 650.1 L857.0 648.5 L859.0 647.5 L861.0 647.0 L863.0 646.4 L865.0 645.6 L867.0 644.8 L869.0 644.3 L871.0 644.0 L873.0 643.6 L875.0 642.9 L877.0 641.5 L879.0 639.6 L881.0 638.0 L883.0 637.1 L885.0 636.6 L887.0 636.0 L889.0 634.9 L891.0 633.4 L893.0 631.9 L895.0 630.8 L897.0 630.1 L899.0 629.5 L901.0 628.8 L903.0 628.1 L905.0 627.2 L907.0 626.0 L909.0 624.9 L911.0 624.2 L913.0 624.2 L915.0 624.6 L917.0 624.9 L919.0 624.6 L921.0 623.9 L923.0 623.1 L925.0 622.3 L927.0 621.5 L929.0 620.9 L931.0 620.5 L933.0 620.1 L935.0 619.5 L937.0 618.8 L939.0 618.3 L941.0 618.3 L943.0 618.5 L945.0 618.8 L947.0 618.9 L949.0 618.6 L951.0 617.9 L953.0 617.2 L955.0 616.7 L957.0 616.3 L959.0 616.3 L961.0 616.4 L963.0 616.7 L965.0 617.2 L967.0 617.4 L969.0 617.3 L971.0 617.3 L973.0 618.0 L975.0 618.8 L977.0 619.0 L979.0 619.0 L981.0 619.2 L983.0 619.4 L985.0 619.4 L987.0 619.4 L989.0 619.7 L991.0 620.1 L993.0 620.6 L995.0 621.6 L997.0 623.1 L999.0 624.7 L1001.0 625.8 L1003.0 626.6 L1005.0 627.4 L1007.0 628.2 L1009.0 629.0 L1011.0 629.9 L1013.0 630.8 L1015.0 631.9 L1017.0 633.2 L1019.0 634.4 L1021.0 635.8 L1023.0 637.4 L1025.0 639.2 L1027.0 640.6 L1029.0 641.9 L1031.0 643.4 L1033.0 645.2 L1035.0 647.2 L1037.0 649.2 L1039.0 651.2 L1041.0 652.9 L1043.0 654.6 L1045.0 656.4 L1047.0 658.2 L1049.0 659.9 L1051.0 661.6 L1053.0 663.5 L1055.0 665.2 L1057.0 666.9 L1059.0 668.8 L1061.0 670.8 L1063.0 672.9 L1065.0 674.8 L1067.0 676.6 L1069.0 678.6 L1071.0 680.9 L1073.0 683.4 L1075.0 685.9 L1077.0 688.5 L1079.0 691.2 L1081.0 693.8 L1083.0 696.3 L1085.0 699.1 L1087.0 702.3 L1089.0 705.6 L1091.0 708.5 L1093.0 711.0 L1095.0 713.6 L1097.0 716.2 L1099.0 718.8 L1101.0 721.5 L1103.0 724.5 L1105.0 727.4 L1107.0 730.0 L1109.0 732.5 L1111.0 735.3 L1113.0 738.1 L1115.0 740.7 L1117.0 743.4 L1119.0 746.3 L1121.0 749.5 L1123.0 752.6 L1125.0 755.6 L1127.0 758.7 L1129.0 762.0 L1131.0 765.2 L1133.0 768.6 L1135.0 772.2 L1137.0 775.9 L1139.0 779.6 L1141.0 783.5 L1143.0 787.5 L1145.0 791.4 L1147.0 794.9 L1149.0 798.3 L1151.0 801.5 L1153.0 804.7 L1155.0 808.1 L1157.0 811.7 L1159.0 815.6 L1161.0 819.2 L1163.0 822.4 L1165.0 825.6 L1167.0 828.9 L1169.0 832.4 L1171.0 836.0 L1173.0 839.9 L1175.0 843.9 L1177.0 847.8 L1179.0 851.2 L1181.0 854.6 L1183.0 858.1 L1185.0 861.5 L1187.0 864.4 L1189.0 867.2 L1191.0 870.3 L1193.0 874.0 L1195.0 877.9 L1197.0 881.7 L1199.0 885.2 L1201.0 888.6 L1203.0 892.1 L1205.0 895.8 L1207.0 899.4 L1209.0 902.7 L1211.0 905.6 L1213.0 908.6 L1215.0 911.8 L1217.0 915.1 L1219.0 918.5 L1221.0 921.8 L1223.0 925.2 L1225.0 928.8 L1227.0 932.8 L1229.0 937.1 L1231.0 941.4 L1233.0 945.5 L1235.0 949.3 L1237.0 952.8 L1239.0 956.3 L1241.0 960.1 L1243.0 963.9 L1245.0 967.5 L1247.0 970.5 L1249.0 973.4 L1251.0 976.4 L1253.0 979.5 L1255.0 982.2 L1257.0 984.7 L1259.0 987.0 L1261.0 989.3 L1263.0 991.6 L1265.0 994.2 L1267.0 997.1 L1269.0 1000.1 L1271.0 1003.1 L1273.0 1006.2 L1275.0 1009.3 L1277.0 1012.6 L1279.0 1016.0 L1281.0 1019.1 L1283.0 1021.6 L1285.0 1023.9 L1287.0 1026.4 L1289.0 1029.3 L1291.0 1032.4 L1293.0 1035.5 L1295.0 1038.1 L1297.0 1040.4 L1299.0 1042.7 L1301.0 1045.0 L1303.0 1047.4 L1305.0 1049.6 L1307.0 1051.7 L1309.0 1054.0 L1311.0 1056.4 L1313.0 1058.7 L1315.0 1060.8 L1317.0 1063.1 L1319.0 1065.5 L1321.0 1067.9 L1323.0 1070.0 L1325.0 1071.9 L1327.0 1073.5 L1329.0 1075.0 L1331.0 1076.8 L1333.0 1078.9 L1335.0 1081.1 L1337.0 1083.1 L1339.0 1085.1 L1341.0 1087.1 L1343.0 1089.0 L1345.0 1090.7 L1347.0 1092.3 L1349.0 1093.8 L1351.0 1095.4 L1353.0 1097.2 L1355.0 1099.1 L1357.0 1100.9 L1359.0 1102.7 L1361.0 1104.4 L1363.0 1105.9 L1365.0 1107.5 L1367.0 1109.3 L1369.0 1111.2 L1371.0 1113.1 L1373.0 1114.5 L1375.0 1115.6 L1377.0 1117.0 L1379.0 1118.8 L1381.0 1120.5 L1383.0 1121.9 L1385.0 1123.2 L1387.0 1124.4 L1389.0 1125.7 L1391.0 1126.9 L1393.0 1128.1 L1395.0 1128.9 L1397.0 1129.7 L1399.0 1130.7 L1401.0 1132.1 L1403.0 1133.3 L1405.0 1134.6 L1407.0 1136.0 L1409.0 1137.4 L1411.0 1138.6 L1413.0 1139.8 L1415.0 1140.9 L1417.0 1142.0 L1419.0 1143.1 L1421.0 1144.0 L1423.0 1144.7 L1425.0 1145.2 L1427.0 1145.9 L1429.0 1147.2 L1431.0 1148.6 L1433.0 1149.6 L1435.0 1150.4 L1437.0 1151.1 L1439.0 1152.2 L1441.0 1153.5 L1443.0 1154.8 L1445.0 1156.0 L1447.0 1157.1 L1449.0 1157.9 L1451.0 1158.7 L1453.0 1159.3 L1455.0 1159.9 L1457.0 1160.4 L1459.0 1160.8 L1461.0 1161.5 L1463.0 1161.9 L1465.0 1162.1 L1467.0 1162.3 L1469.0 1162.8 L1471.0 1163.5 L1473.0 1164.2 L1475.0 1164.6 L1477.0 1164.8 L1479.0 1164.8 L1481.0 1164.7 L1483.0 1164.7 L1485.0 1165.1 L1487.0 1165.6 L1489.0 1166.1 L1491.0 1166.5 L1493.0 1166.7 L1495.0 1166.9 L1497.0 1167.2 L1499.0 1167.5 L1501.0 1167.8 L1503.0 1168.2 L1505.0 1168.8 L1507.0 1169.3 L1509.0 1169.9 L1511.0 1170.5 L1513.0 1171.0 L1515.0 1171.5 L1517.0 1171.9 L1519.0 1172.5 L1521.0 1172.9 L1523.0 1173.2 L1525.0 1173.3 L1527.0 1173.3 L1529.0 1173.4 L1531.0 1173.4 L1533.0 1173.3 L1535.0 1173.2 L1537.0 1173.2 L1539.0 1173.2 L1541.0 1173.0 L1543.0 1173.1 L1545.0 1173.5 L1547.0 1174.2 L1549.0 1174.7 L1551.0 1174.9 L1553.0 1174.9 L1555.0 1174.9 L1557.0 1175.1 L1559.0 1175.4 L1561.0 1175.8 L1563.0 1176.2 L1565.0 1176.5 L1567.0 1176.5 L1569.0 1176.6 L1571.0 1176.8 L1573.0 1177.0 L1575.0 1177.3 L1577.0 1177.5 L1579.0 1177.5 L1581.0 1177.4 L1583.0 1177.2 L1585.0 1177.0 L1587.0 1176.9 L1589.0 1176.6 L1591.0 1176.4 L1593.0 1176.6 L1595.0 1177.2 L1597.0 1178.2 L1599.0 1179.0 L1601.0 1179.4 L1603.0 1179.5 L1605.0 1179.4 L1607.0 1179.4 L1609.0 1179.5 L1611.0 1179.5 L1613.0 1179.4 L1615.0 1179.2 L1617.0 1179.0 L1619.0 1179.0 L1621.0 1178.9 L1623.0 1178.9 L1625.0 1178.8 L1627.0 1178.5 L1629.0 1178.3 L1631.0 1178.1 L1633.0 1178.0 L1635.0 1177.6 L1637.0 1177.1 L1639.0 1177.0 L1641.0 1177.5 L1643.0 1178.0 L1645.0 1178.3 L1647.0 1178.4 L1649.0 1178.5 L1651.0 1178.7 L1653.0 1178.8 L1655.0 1178.8 L1657.0 1178.7 L1659.0 1178.8 L1661.0 1179.3 L1663.0 1179.8 L1665.0 1179.9 L1667.0 1179.6 L1669.0 1179.6 L1671.0 1179.9 L1673.0 1180.2 L1675.0 1180.4 L1677.0 1180.4 L1679.0 1180.1 L1681.0 1179.7 L1683.0 1179.5 L1685.0 1179.4 L1687.0 1179.5 L1689.0 1179.8 L1691.0 1179.9 L1693.0 1180.0 L1695.0 1179.8 L1697.0 1179.6 L1699.0 1179.4"/>
<path class="c" stroke="#00CCCC" d="M108.0 918.1 L110.0 921.2 L112.0 924.4 L114.0 927.3 L116.0 930.3 L118.0 933.2 L120.0 935.8 L122.0 938.1 L124.0 940.4 L126.0 942.4 L128.0 944.6 L130.0 947.3 L132.0 949.9 L134.0 951.7 L136.0 952.9 L138.0 954.0 L140.0 955.5 L142.0 957.5 L144.0 959.6 L146.0 961.3 L148.0 962.6 L150.0 964.3 L152.0 967.0 L154.0 970.1 L156.0 972.5 L158.0 973.5 L160.0 973.9 L162.0 974.4 L164.0 975.4 L166.0 976.4 L168.0 977.5 L170.0 979.0 L172.0 980.9 L174.0 982.8 L176.0 984.7 L178.0 986.7 L180.0 988.5 L182.0 989.7 L184.0 990.7 L186.0 991.7 L188.0 992.8 L190.0 994.0 L192.0 995.4 L194.0 997.1 L196.0 999.2 L198.0 1001.4 L200.0 1003.4 L202.0 1005.2 L204.0 1007.0 L206.0 1008.7 L208.0 1010.6 L210.0 1012.2 L212.0 1013.9 L214.0 1016.0 L216.0 1018.4 L218.0 1020.9 L220.0 1023.1 L222.0 1025.1 L224.0 1026.3 L226.0 1027.1 L228.0 1027.9 L230.0 1028.5 L232.0 1029.0 L234.0 1029.9 L236.0 1031.7 L238.0 1033.6 L240.0 1035.1 L242.0 1035.9 L244.0 1036.5 L246.0 1037.3 L248.0 1038.7 L250.0 1040.6 L252.0 1042.8 L254.0 1044.7 L256.0 1046.4 L258.0 1048.0 L260.0 1049.4 L262.0 1050.7 L264.0 1051.6 L266.0 1052.5 L268.0 1053.9 L270.0 1056.0 L272.0 1058.2 L274.0 1059.9 L276.0 1061.2 L278.0 1062.6 L280.0 1064.0 L282.0 1065.5 L284.0 1067.2 L286.0 1069.2 L288.0 1071.1 L290.0 1072.3 L292.0 1072.7 L294.0 1072.8 L296.0 1073.2 L298.0 1074.2 L300.0 1075.3 L302.0 1076.2 L304.0 1077.1 L306.0 1077.9 L308.0 1078.6 L310.0 1078.8 L312.0 1078.6 L314.0 1078.5 L316.0 1078.5 L318.0 1078.3 L320.0 1077.8 L322.0 1076.9 L324.0 1075.5 L326.0 1073.9 L328.0 1073.1 L330.0 1073.0 L332.0 1072.8 L334.0 1072.0 L336.0 1070.6 L338.0 1069.0 L340.0 1067.7 L342.0 1066.5 L344.0 1065.3 L346.0 1064.1 L348.0 1062.6 L350.0 1060.8 L352.0 1059.2 L354.0 1058.3 L356.0 1057.5 L358.0 1055.9 L360.0 1053.8 L362.0 1052.0 L364.0 1050.5 L366.0 1049.3 L368.0 1047.9 L370.0 1046.1 L372.0 1044.0 L374.0 1042.0 L376.0 1040.2 L378.0 1038.4 L380.0 1036.3 L382.0 1033.8 L384.0 1031.6 L386.0 1030.1 L388.0 1028.5 L390.0 1026.2 L392.0 1023.6 L394.0 1021.6 L396.0 1019.8 L398.0 1017.8 L400.0 1015.6 L402.0 1013.5 L404.0 1011.2 L406.0 1008.7 L408.0 1006.0 L410.0 1003.6 L412.0 1001.2 L414.0 998.7 L416.0 996.0 L418.0 993.3 L420.0 990.6 L422.0 987.6 L424.0 984.3 L426.0 981.1 L428.0 978.2 L430.0 975.4 L432.0 972.6 L434.0 969.8 L436.0 967.3 L438.0 965.2 L440.0 962.8 L442.0 959.6 L444.0 955.9 L446.0 952.4 L448.0 949.3 L450.0 946.3 L452.0 943.3 L454.0 940.3 L456.0 937.1 L458.0 933.6 L460.0 930.0 L462.0 926.6 L464.0 923.4 L466.0 919.9 L468.0 916.0 L470.0 911.8 L472.0 907.6 L474.0 903.7 L476.0 899.8 L478.0 896.8 L480.0 893.4 L482.0 889.5 L484.0 885.5 L486.0 881.9 L488.0 878.4 L490.0 874.7 L492.0 870.5 L494.0 866.2 L496.0 862.3 L498.0 858.5 L500.0 854.8 L502.0 851.2 L504.0 847.7 L506.0 844.2 L508.0 840.4 L510.0 836.0 L512.0 831.3 L514.0 826.9 L516.0 823.2 L518.0 819.9 L520.0 816.5 L522.0 812.2 L524.0 807.3 L526.0 802.7 L528.0 798.3 L530.0 793.9 L532.0 789.5 L534.0 785.0 L536.0 780.4 L538.0 776.2 L540.0 772.3 L542.0 768.4 L544.0 763.8 L546.0 758.7 L548.0 753.7 L550.0 749.4 L552.0 745.6 L554.0 741.9 L556.0 737.8 L558.0 733.7 L560.0 729.9 L562.0 726.5 L564.0 723.4 L566.0 719.8 L568.0 715.4 L570.0 710.4 L572.0 705.4 L574.0 701.3 L576.0 697.5 L578.0 693.7 L580.0 689.5 L582.0 684.6 L584.0 679.5 L586.0 674.8 L588.0 670.6 L590.0 666.8 L592.0 662.6 L594.0 658.2 L596.0 653.7 L598.0 649.3 L600.0 644.8 L602.0 640.4 L604.0 636.1 L606.0 631.6 L608.0 626.9 L610.0 622.2 L612.0 617.7 L614.0 613.6 L616.0 609.3 L618.0 604.4 L620.0 599.7 L622.0 595.4 L624.0 590.8 L626.0 585.6 L628.0 580.5 L630.0 576.0 L632.0 572.2 L634.0 568.7 L636.0 565.6 L638.0 562.3 L640.0 558.6 L642.0 554.7 L644.0 551.1 L646.0 547.6 L648.0 543.8 L650.0 539.5 L652.0 535.6 L654.0 532.2 L656.0 528.8 L658.0 525.2 L660.0 521.5 L662.0 517.3 L664.0 512.3 L666.0 507.4 L668.0 503.3 L670.0 499.7 L672.0 496.0 L674.0 492.7 L676.0 489.5 L678.0 485.5 L680.0 480.5 L682.0 475.9 L684.0 472.5 L686.0 469.7 L688.0 466.5 L690.0 462.5 L692.0 458.1 L694.0 454.2 L696.0 451.0 L698.0 448.0 L700.0 444.6 L702.0 441.1 L704.0 437.5 L706.0 433.8 L708.0 430.3 L710.0 427.0 L712.0 423.8 L714.0 420.6 L716.0 417.2 L718.0 413.5 L720.0 409.9 L722.0 406.4 L724.0 402.8 L726.0 398.9 L728.0 394.8 L730.0 390.9 L732.0 387.4 L734.0 384.0 L736.0 380.4 L738.0 377.1 L740.0 374.2 L742.0 371.8 L744.0 369.4 L746.0 367.3 L748.0 365.0 L750.0 362.3 L755.9 356.0 L760.5 390.0 L764.5 384.4 L766.5 381.2 L768.5 377.8 L770.5 374.9 L772.5 372.6 L774.5 370.3 L776.5 367.8 L778.5 365.0 L780.5 362.0 L782.5 359.0 L784.5 356.0 L786.5 353.1 L788.5 350.0 L790.5 346.8 L792.5 343.9 L794.5 341.5 L796.5 339.3 L798.5 336.8 L800.5 334.2 L802.5 332.2 L804.5 330.2 L806.5 327.7 L808.5 324.9 L810.5 322.2 L812.5 319.6 L814.5 317.1 L816.5 314.7 L818.5 312.0 L820.5 309.1 L822.5 306.0 L824.5 302.9 L826.5 299.9 L828.5 297.0 L830.5 294.3 L832.5 291.6 L834.5 288.5 L836.5 285.4 L838.5 282.2 L840.5 279.2 L842.5 276.4 L844.5 274.1 L846.5 271.9 L848.5 269.8 L850.5 267.7 L852.5 265.3 L854.5 262.6 L856.5 260.0 L858.5 258.1 L860.5 256.7 L862.5 255.2 L864.5 252.9 L866.5 250.1 L868.5 247.6 L870.5 245.2 L872.5 242.2 L874.5 238.5 L876.5 234.8 L878.5 231.4 L880.5 228.7 L882.5 226.3 L884.5 223.9 L886.5 221.5 L888.5 219.4 L890.5 217.6 L892.5 215.9 L894.5 214.0 L896.5 212.0 L898.5 209.9 L900.5 207.5 L902.5 204.7 L904.5 202.2 L906.5 200.1 L908.5 198.4 L910.5 197.0 L912.5 195.9 L914.5 194.6 L916.5 192.9 L918.5 190.4 L920.5 187.9 L922.5 185.7 L924.5 183.9 L926.5 182.2 L928.5 180.4 L930.5 178.9 L932.5 177.7 L934.5 176.7 L936.5 175.6 L938.5 174.0 L940.5 171.8 L942.5 169.7 L944.5 168.2 L946.5 167.3 L948.5 166.4 L950.5 165.6 L952.5 165.0 L954.5 164.6 L956.5 164.1 L958.5 163.1 L960.5 161.2 L962.5 159.1 L964.5 157.4 L966.5 156.2 L968.5 155.1 L970.5 154.1 L972.5 153.5 L974.5 152.9 L976.5 152.0 L978.5 151.3 L980.5 151.3 L982.5 151.5 L984.5 151.7 L986.5 151.8 L988.5 151.9 L990.5 152.1 L992.5 152.1 L994.5 152.1 L996.5 152.3 L998.5 152.2 L1000.5 151.9 L1002.5 151.6 L1004.5 151.5 L1006.5 152.0 L1008.5 152.7 L1010.5 153.6 L1012.5 154.6 L1014.5 155.9 L1016.5 157.6 L1018.5 159.4 L1020.5 161.2 L1022.5 163.0 L1024.5 164.6 L1026.5 165.9 L1028.5 166.9 L1030.5 167.9 L1032.5 169.2 L1034.5 170.8 L1036.5 172.5 L1038.5 174.0 L1040.5 175.6 L1042.5 177.4 L1044.5 179.8 L1046.5 182.6 L1048.5 185.7 L1050.5 189.1 L1052.5 192.3 L1054.5 195.4 L1056.5 198.5 L1058.5 201.5 L1060.5 204.7 L1062.5 207.8 L1064.5 211.0 L1066.5 214.4 L1068.5 218.0 L1070.5 221.7 L1072.5 225.3 L1074.5 228.9 L1076.5 232.9 L1078.5 237.4 L1080.5 242.3 L1082.5 247.0 L1084.5 251.6 L1086.5 256.2 L1088.5 261.3 L1090.5 266.7 L1092.5 272.1 L1094.5 277.1 L1096.5 281.8 L1098.5 286.9 L1100.5 292.1 L1102.5 297.2 L1104.5 302.2 L1106.5 307.4 L1108.5 312.8 L1110.5 318.3 L1112.5 323.7 L1114.5 328.9 L1116.5 334.0 L1118.5 339.1 L1120.5 344.3 L1122.5 349.5 L1124.5 354.7 L1126.5 359.9 L1128.5 365.2 L1130.5 370.7 L1132.5 376.5 L1134.5 382.3 L1136.5 388.2 L1138.5 394.1 L1140.5 400.3 L1142.5 406.6 L1144.5 412.7 L1146.5 418.7 L1148.5 424.7 L1150.5 431.0 L1152.5 437.8 L1154.5 444.7 L1156.5 451.6 L1158.5 458.3 L1160.5 465.0 L1162.5 471.7 L1164.5 478.4 L1166.5 485.1 L1168.5 492.0 L1170.5 499.2 L1172.5 506.6 L1174.5 514.0 L1176.5 521.2 L1178.5 528.1 L1180.5 534.8 L1182.5 541.2 L1184.5 547.6 L1186.5 553.9 L1188.5 560.3 L1190.5 566.7 L1192.5 573.6 L1194.5 580.9 L1196.5 588.4 L1198.5 595.8 L1200.5 602.9 L1202.5 610.0 L1204.5 617.2 L1206.5 624.2 L1208.5 630.8 L1210.5 637.1 L1212.5 643.2 L1214.5 649.5 L1216.5 655.8 L1218.5 661.8 L1220.5 667.3 L1222.5 672.8 L1224.5 678.7 L1226.5 684.7 L1228.5 690.6 L1230.5 696.9 L1232.5 703.7 L1234.5 710.7 L1236.5 717.6 L1238.5 724.4 L1240.5 731.1 L1242.5 738.1 L1244.5 745.2 L1246.5 752.5 L1248.5 760.0 L1250.5 767.8 L1252.5 775.7 L1254.5 783.3 L1256.5 790.8 L1258.5 798.2 L1260.5 805.1 L1262.5 811.5 L1264.5 817.4 L1266.5 822.8 L1268.5 827.8 L1270.5 833.0 L1272.5 838.5 L1274.5 844.1 L1276.5 849.7 L1278.5 855.3 L1280.5 861.0 L1282.5 866.6 L1284.5 871.9 L1286.5 877.1 L1288.5 882.3 L1290.5 887.7 L1292.5 893.3 L1294.5 898.8 L1296.5 904.1 L1298.5 909.4 L1300.5 914.9 L1302.5 920.5 L1304.5 926.3 L1306.5 932.4 L1308.5 938.6 L1310.5 944.4 L1312.5 950.0 L1314.5 955.6 L1316.5 960.9 L1318.5 965.5 L1320.5 969.5 L1322.5 973.5 L1324.5 977.8 L1326.5 982.4 L1328.5 986.7 L1330.5 990.9 L1332.5 995.0 L1334.5 999.2 L1336.5 1003.4 L1338.5 1007.8 L1340.5 1012.6 L1342.5 1017.5 L1344.5 1022.2 L1346.5 1026.7 L1348.5 1031.0 L1350.5 1035.0 L1352.5 1038.9 L1354.5 1042.7 L1356.5 1046.1 L1358.5 1049.0 L1360.5 1051.6 L1362.5 1054.0 L1364.5 1056.5 L1366.5 1059.1 L1368.5 1061.9 L1370.5 1065.0 L1372.5 1068.3 L1374.5 1071.4 L1376.5 1074.3 L1378.5 1077.1 L1380.5 1079.8 L1382.5 1082.7 L1384.5 1085.7 L1386.5 1088.8 L1388.5 1091.8 L1390.5 1094.6 L1392.5 1096.9 L1394.5 1099.3 L1396.5 1101.8 L1398.5 1104.4 L1400.5 1106.7 L1402.5 1108.8 L1404.5 1110.8 L1406.5 1112.6 L1408.5 1114.5 L1410.5 1116.7 L1412.5 1118.8 L1414.5 1120.7 L1416.5 1122.4 L1418.5 1124.2 L1420.5 1126.0 L1422.5 1127.8 L1424.5 1129.8 L1426.5 1131.8 L1428.5 1133.8 L1430.5 1135.5 L1432.5 1137.1 L1434.5 1138.7 L1436.5 1140.4 L1438.5 1142.0 L1440.5 1143.3 L1442.5 1144.4 L1444.5 1145.6 L1446.5 1146.8 L1448.5 1148.1 L1450.5 1149.5 L1452.5 1150.8 L1454.5 1152.0 L1456.5 1153.3 L1458.5 1154.8 L1460.5 1156.2 L1462.5 1157.4 L1464.5 1158.6 L1466.5 1160.0 L1468.5 1161.7 L1470.5 1163.1 L1472.5 1164.2 L1474.5 1165.1 L1476.5 1166.2 L1478.5 1167.3 L1480.5 1168.2 L1482.5 1168.9 L1484.5 1169.9 L1486.5 1170.8 L1488.5 1171.5 L1490.5 1172.0 L1492.5 1172.6 L1494.5 1173.4 L1496.5 1174.4 L1498.5 1175.5 L1500.5 1176.3 L1502.5 1176.7 L1504.5 1177.1 L1506.5 1177.5 L1508.5 1178.3 L1510.5 1179.4 L1512.5 1180.4 L1514.5 1181.1 L1516.5 1181.6 L1518.5 1182.2 L1520.5 1182.8 L1522.5 1183.2 L1524.5 1183.8 L1526.5 1184.6 L1528.5 1185.5 L1530.5 1186.2 L1532.5 1186.6 L1534.5 1187.0 L1536.5 1187.4 L1538.5 1187.6 L1540.5 1187.6 L1542.5 1187.8 L1544.5 1188.1 L1546.5 1188.6 L1548.5 1189.1 L1550.5 1189.4 L1552.5 1189.6 L1554.5 1189.7 L1556.5 1189.9 L1558.5 1190.3 L1560.5 1190.6 L1562.5 1190.7 L1564.5 1191.0 L1566.5 1191.4 L1568.5 1191.6 L1570.5 1191.5 L1572.5 1191.6 L1574.5 1192.1 L1576.5 1192.5 L1578.5 1192.6 L1580.5 1192.6 L1582.5 1192.7 L1584.5 1192.6 L1586.5 1192.3 L1588.5 1191.6 L1590.5 1191.3 L1592.5 1191.5 L1594.5 1192.1 L1596.5 1192.9 L1598.5 1193.6 L1600.5 1194.0 L1602.5 1194.3 L1604.5 1194.3 L1606.5 1194.2 L1608.5 1194.2 L1610.5 1194.3 L1612.5 1194.4 L1614.5 1194.4 L1616.5 1194.2 L1618.5 1194.2 L1620.5 1194.3 L1622.5 1194.2 L1624.5 1193.9 L1626.5 1193.8 L1628.5 1194.0 L1630.5 1194.4 L1632.5 1194.3 L1634.5 1193.9 L1636.5 1193.3 L1638.5 1193.1 L1640.5 1193.3 L1642.5 1193.9 L1644.5 1194.3 L1646.5 1194.5 L1648.5 1194.5 L1650.5 1194.7 L1652.5 1194.8 L1654.5 1195.0 L1656.5 1195.0 L1658.5 1195.0 L1660.5 1194.8 L1662.5 1194.6 L1664.5 1194.4 L1666.5 1194.4 L1668.5 1194.5 L1670.5 1194.7 L1672.5 1195.0 L1674.5 1195.1 L1676.5 1195.0 L1678.5 1194.8 L1680.5 1194.7 L1682.5 1194.7 L1684.5 1194.4 L1686.5 1194.3 L1688.5 1194.3 L1690.5 1194.6 L1692.5 1194.8 L1694.5 1194.8 L1696.5 1194.8 L1698.5 1194.6 L1700.5 1194.5"/>
</g>
<text class="b" x="109.6" y="1263.3" font-size="62" text-anchor="middle">300</text>
<text class="b" x="639.8" y="1263.3" font-size="62" text-anchor="middle">400</text>
<text class="b" x="1169.7" y="1263.3" font-size="62" text-anchor="middle">500</text>
<text class="b" x="1698.6" y="1263.3" font-size="62" text-anchor="middle">600</text>
<text class="b" x="903.3" y="1335.2" font-size="77.1" text-anchor="middle">Wavelength(nm)</text>
<text class="b" transform="translate(77.1,608.8) rotate(-90)" font-size="77" letter-spacing="0.49" text-anchor="middle">Absorbance(a.u.)</text>
</svg>
</body></html>
